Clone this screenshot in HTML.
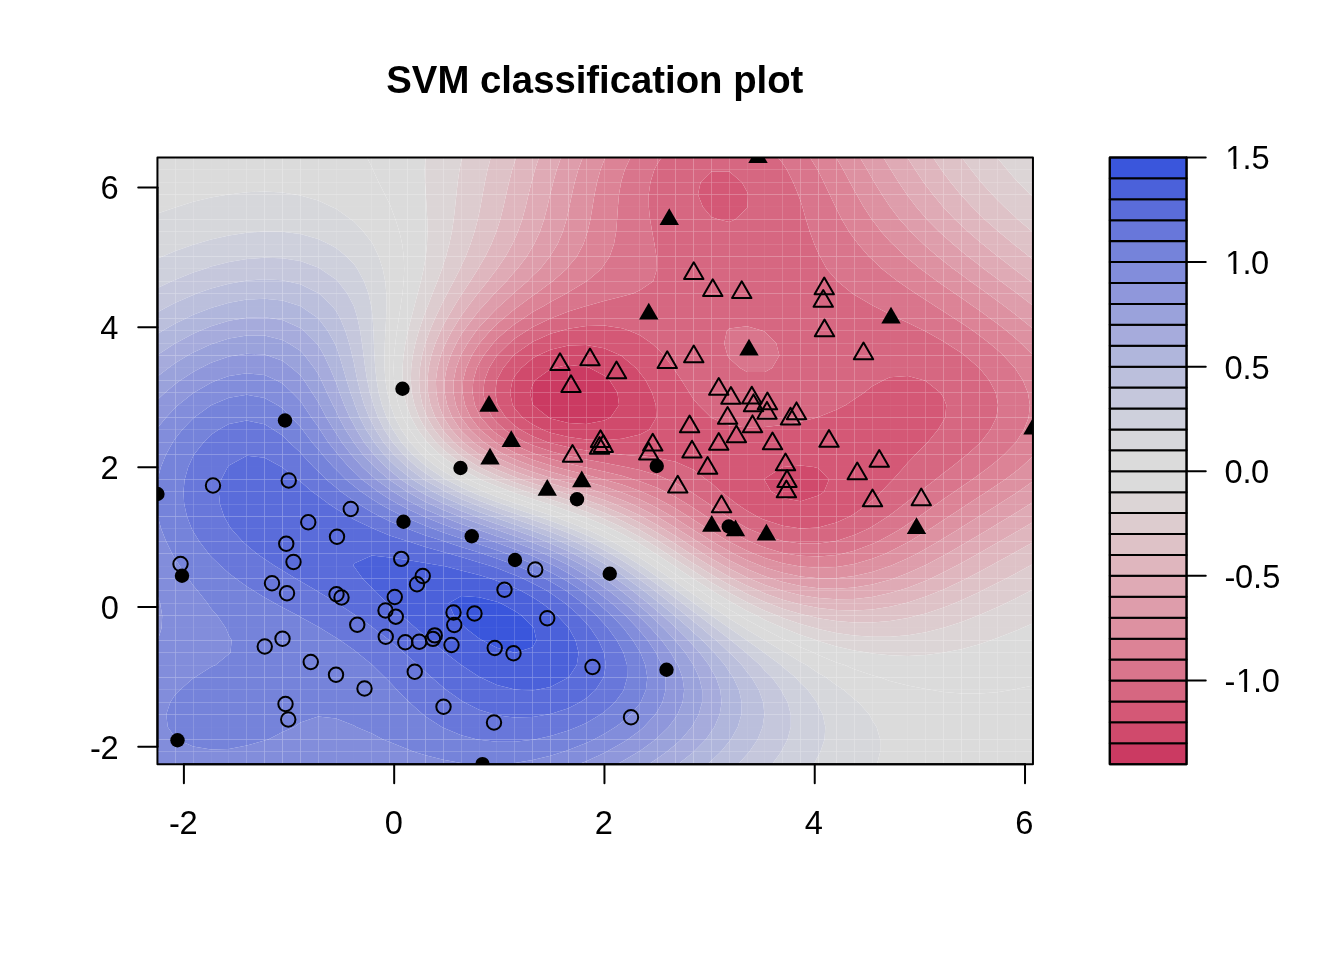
<!DOCTYPE html>
<html lang="en"><head><meta charset="utf-8"><title>SVM classification plot</title>
<style>
html,body{margin:0;padding:0;background:#fff;}
body{width:1344px;height:960px;overflow:hidden;}
svg{display:block;}
text{font-family:"Liberation Sans",Arial,Helvetica,sans-serif;font-size:32px;fill:#000;}
.title{font-size:38.4px;font-weight:bold;}
.o{fill:none;stroke:#000;stroke-width:2;stroke-linejoin:round;}
.f{fill:#000;stroke:none;}
.ln line,.ln rect{stroke:#000;stroke-width:2;stroke-linecap:round;stroke-linejoin:round;}
.seam rect{fill:#fff;}
</style></head><body>
<svg width="1344" height="960" viewBox="0 0 1344 960">
<rect width="1344" height="960" fill="#fff"/>
<defs><mask id="hm" maskUnits="userSpaceOnUse" x="157" y="157" width="877" height="608" style="mask-type:luminance"><rect x="157" y="157" width="877" height="608" fill="#fff"/><rect x="175" y="157" width="1" height="608" fill="#787878"/><rect x="193" y="157" width="1" height="608" fill="#aaaaaa"/><rect x="211" y="157" width="1" height="608" fill="#e9e9e9"/><rect x="228" y="157" width="1" height="608" fill="#d2d2d2"/><rect x="246" y="157" width="1" height="608" fill="#979797"/><rect x="264" y="157" width="1" height="608" fill="#6c6c6c"/><rect x="282" y="157" width="1" height="608" fill="#5a5a5a"/><rect x="300" y="157" width="1" height="608" fill="#656565"/><rect x="318" y="157" width="1" height="608" fill="#8c8c8c"/><rect x="336" y="157" width="1" height="608" fill="#c5c5c5"/><rect x="353" y="157" width="1" height="608" fill="#f8f8f8"/><rect x="371" y="157" width="1" height="608" fill="#b7b7b7"/><rect x="389" y="157" width="1" height="608" fill="#818181"/><rect x="407" y="157" width="1" height="608" fill="#606060"/><rect x="425" y="157" width="1" height="608" fill="#5b5b5b"/><rect x="443" y="157" width="1" height="608" fill="#737373"/><rect x="461" y="157" width="1" height="608" fill="#a3a3a3"/><rect x="479" y="157" width="1" height="608" fill="#e1e1e1"/><rect x="496" y="157" width="1" height="608" fill="#dadada"/><rect x="514" y="157" width="1" height="608" fill="#9d9d9d"/><rect x="532" y="157" width="1" height="608" fill="#707070"/><rect x="550" y="157" width="1" height="608" fill="#5a5a5a"/><rect x="568" y="157" width="1" height="608" fill="#626262"/><rect x="586" y="157" width="1" height="608" fill="#868686"/><rect x="604" y="157" width="1" height="608" fill="#bdbdbd"/><rect x="639" y="157" width="1" height="608" fill="#bebebe"/><rect x="657" y="157" width="1" height="608" fill="#878787"/><rect x="675" y="157" width="1" height="608" fill="#636363"/><rect x="693" y="157" width="1" height="608" fill="#5a5a5a"/><rect x="711" y="157" width="1" height="608" fill="#6f6f6f"/><rect x="729" y="157" width="1" height="608" fill="#9c9c9c"/><rect x="747" y="157" width="1" height="608" fill="#d9d9d9"/><rect x="764" y="157" width="1" height="608" fill="#e3e3e3"/><rect x="782" y="157" width="1" height="608" fill="#a4a4a4"/><rect x="800" y="157" width="1" height="608" fill="#747474"/><rect x="818" y="157" width="1" height="608" fill="#5b5b5b"/><rect x="836" y="157" width="1" height="608" fill="#606060"/><rect x="854" y="157" width="1" height="608" fill="#808080"/><rect x="872" y="157" width="1" height="608" fill="#b5b5b5"/><rect x="890" y="157" width="1" height="608" fill="#f6f6f6"/><rect x="907" y="157" width="1" height="608" fill="#c6c6c6"/><rect x="925" y="157" width="1" height="608" fill="#8d8d8d"/><rect x="943" y="157" width="1" height="608" fill="#666666"/><rect x="961" y="157" width="1" height="608" fill="#5a5a5a"/><rect x="979" y="157" width="1" height="608" fill="#6b6b6b"/><rect x="997" y="157" width="1" height="608" fill="#959595"/><rect x="1015" y="157" width="1" height="608" fill="#d1d1d1"/></mask><clipPath id="pc"><rect x="157.44" y="157.44" width="875.52" height="606.72"/></clipPath></defs>
<g clip-path="url(#pc)">
<g id="bands">
<path fill="#cb3a62" d="M554.5,367.9 568.4,365.1 586.3,366.7 589.8,367.9 604.1,375.6 609.6,380.3 617.5,392.7 619,405.1 610.5,417.5 604.1,420.5 586.3,423.9 568.4,423 550.5,418.4 548.7,417.5 533,405.1 532.7,404.2 530,392.7 532.7,384.4 535,380.3 550.5,369Z"/>
<path fill="#d04a6c" d="M537.8,355.6 550.5,349.8 568.4,345.6 586.3,345 604.1,348.2 620.9,355.6 622,356.2 636,367.9 639.9,372.7 645.6,380.3 652,392.7 655.8,405.1 656.3,417.5 649.2,429.8 639.9,434.4 622,438.8 604.1,440.2 586.3,439.6 568.4,437 550.5,432.7 543,429.8 532.7,424.6 522.5,417.5 514.8,408.5 512.6,405.1 510.1,392.7 512.5,380.3 514.8,376.1 521.2,367.9 532.7,358.2ZM568.4,365.1 554.5,367.9 550.5,369 535,380.3 532.7,384.4 530,392.7 532.7,404.2 533,405.1 548.7,417.5 550.5,418.4 568.4,423 586.3,423.9 604.1,420.5 610.5,417.5 619,405.1 617.5,392.7 609.6,380.3 604.1,375.6 589.8,367.9 586.3,366.7ZM782.8,467 782.8,467 800.7,465.5 813.6,467 818.5,468.3 829,479.4 824,491.8 818.5,495.6 800.7,501.3 782.8,498.1 771.2,491.8 764.9,480.7 764.4,479.4 764.9,478.5Z"/>
<path fill="#d45876" d="M700.6,182.2 711.3,171.5 729.2,171.6 741.8,182.2 747.1,191.7 747.9,194.6 747.5,207 747.1,208.1 735.1,219.4 729.2,222 718.9,219.4 711.3,217 702.9,207 698,194.6ZM561.4,330.8 568.4,328.7 586.3,325.9 604.1,325.6 622,328.3 629.4,330.8 639.9,335.2 651.6,343.2 657.7,348.7 664.1,355.6 673.3,367.9 675.6,371.6 681.5,380.3 689.4,392.7 693.5,399.3 698.5,405.1 711.1,417.5 711.3,417.7 729.2,425.4 747.1,427.5 764.9,427.1 782.8,425.1 800.7,421.8 817.4,417.5 818.5,417.1 836.4,409.8 845.9,405.1 854.3,399.2 864.1,392.7 872.2,386.2 883.5,380.3 890,377.3 907.9,376.1 923.7,380.3 925.8,381 940.4,392.7 943.6,397.8 946.3,405.1 945.2,417.5 943.6,420.6 937.9,429.8 927.7,442.2 925.8,444.1 915.6,454.6 907.9,462.6 904.1,467 893,479.4 890,482.4 881.3,491.8 872.2,500.3 867.9,504.1 854.3,513.8 849.8,516.5 836.4,522.4 818.5,527.4 800.7,528.5 782.8,525.8 764.9,520.1 757.2,516.5 747.1,510.8 736.9,504.1 729.2,498.1 721.1,491.8 711.3,483.1 706.2,479.4 693.5,469.8 687.4,467 675.6,461.7 657.7,458 639.9,456.1 622,454.7 621.4,454.6 604.1,452.8 586.3,450.4 568.4,447.3 550.5,443.1 547.9,442.2 532.7,436.2 520.5,429.8 514.8,425.8 505.8,417.5 497.6,405.1 496.9,402 495.2,392.7 496.7,380.3 496.9,379.8 503.2,367.9 513.4,355.6 514.8,354.2 530.5,343.2 532.7,341.8 550.5,333.8ZM782.8,467 782.8,467 764.9,478.5 764.4,479.4 764.9,480.7 771.2,491.8 782.8,498.1 800.7,501.3 818.5,495.6 824,491.8 829,479.4 818.5,468.3 813.6,467 800.7,465.5ZM550.5,349.8 537.8,355.6 532.7,358.2 521.2,367.9 514.8,376.1 512.5,380.3 510.1,392.7 512.6,405.1 514.8,408.5 522.5,417.5 532.7,424.6 543,429.8 550.5,432.7 568.4,437 586.3,439.6 604.1,440.2 622,438.8 639.9,434.4 649.2,429.8 656.3,417.5 655.8,405.1 652,392.7 645.6,380.3 639.9,372.7 636,367.9 622,356.2 620.9,355.6 604.1,348.2 586.3,345 568.4,345.6Z"/>
<path fill="#d66781" d="M654.3,169.8 657.7,163.3 661.7,157.4 675.6,157.4 693.5,157.4 711.3,157.4 729.2,157.4 747.1,157.4 764.9,157.4 778,157.4 782.8,163.6 786.9,169.8 793.1,182.2 798.2,194.6 800.7,201.6 802.4,207 806,219.4 809.8,231.7 814.3,244.1 818.5,253.4 820,256.5 826.8,268.9 836.4,280.1 837.5,281.3 852.4,293.6 854.3,294.8 872.2,305.2 873.6,306 890,314.2 898.4,318.4 907.9,322.7 924.2,330.8 925.8,331.5 943.6,341.4 946.3,343.2 961.5,353.1 964.7,355.6 979.4,367.9 979.4,367.9 989.2,380.3 995.7,392.7 997.2,400 998.1,405.1 997.2,411.9 996.4,417.5 990.3,429.8 980.7,442.2 979.4,443.6 967.2,454.6 961.5,459.1 951.6,467 943.6,473 935.5,479.4 925.8,486.9 919.9,491.8 907.9,501.2 904.4,504.1 890,514.9 887.9,516.5 872.2,526.5 867.8,528.9 854.3,535.1 836.4,541 834.8,541.3 818.5,543.6 800.7,543.6 784,541.3 782.8,541.1 764.9,535.5 749.1,528.9 747.1,527.9 729.2,517.7 727.3,516.5 711.3,505.6 709.1,504.1 693.5,493.4 690.7,491.8 675.6,482.9 667.6,479.4 657.7,475.2 639.9,469.9 625.9,467 622,466.2 604.1,462.7 586.3,459.5 568.4,456 562.7,454.6 550.5,451.3 532.7,445.3 525.6,442.2 514.8,436.5 504.8,429.8 496.9,422.6 492.4,417.5 485.8,405.1 483.2,392.7 484.5,380.3 489.1,367.9 496.8,355.6 496.9,355.4 509.4,343.2 514.8,338.5 526.8,330.8 532.7,327 550.5,318.4 550.6,318.4 568.4,311.5 586.3,306.1 586.6,306 604.1,301.1 622,296.4 633.1,293.6 639.9,290.3 653.3,281.3 656.9,268.9 656.4,256.5 654.5,244.1 652.2,231.7 650.1,219.4 648.8,207 648.7,194.6 650.4,182.2ZM711.3,171.5 700.6,182.2 698,194.6 702.9,207 711.3,217 718.9,219.4 729.2,222 735.1,219.4 747.1,208.1 747.5,207 747.9,194.6 747.1,191.7 741.8,182.2 729.2,171.6ZM568.4,328.7 561.4,330.8 550.5,333.8 532.7,341.8 530.5,343.2 514.8,354.2 513.4,355.6 503.2,367.9 496.9,379.8 496.7,380.3 495.2,392.7 496.9,402 497.6,405.1 505.8,417.5 514.8,425.8 520.5,429.8 532.7,436.2 547.9,442.2 550.5,443.1 568.4,447.3 586.3,450.4 604.1,452.8 621.4,454.6 622,454.7 639.9,456.1 657.7,458 675.6,461.7 687.4,467 693.5,469.8 706.2,479.4 711.3,483.1 721.1,491.8 729.2,498.1 736.9,504.1 747.1,510.8 757.2,516.5 764.9,520.1 782.8,525.8 800.7,528.5 818.5,527.4 836.4,522.4 849.8,516.5 854.3,513.8 867.9,504.1 872.2,500.3 881.3,491.8 890,482.4 893,479.4 904.1,467 907.9,462.6 915.6,454.6 925.8,444.1 927.7,442.2 937.9,429.8 943.6,420.6 945.2,417.5 946.3,405.1 943.6,397.8 940.4,392.7 925.8,381 923.7,380.3 907.9,376.1 890,377.3 883.5,380.3 872.2,386.2 864.1,392.7 854.3,399.2 845.9,405.1 836.4,409.8 818.5,417.1 817.4,417.5 800.7,421.8 782.8,425.1 764.9,427.1 747.1,427.5 729.2,425.4 711.3,417.7 711.1,417.5 698.5,405.1 693.5,399.3 689.4,392.7 681.5,380.3 675.6,371.6 673.3,367.9 664.1,355.6 657.7,348.7 651.6,343.2 639.9,335.2 629.4,330.8 622,328.3 604.1,325.6 586.3,325.9ZM729.2,328.6 726.9,330.8 724.2,343.2 727.5,355.6 729.2,358.3 740,367.9 747.1,372 764.9,372 772.1,367.9 779.4,355.6 776.2,343.2 764.9,331.8 762.6,330.8 747.1,326.2Z"/>
<path fill="#d9758c" d="M630.5,157.4 639.9,157.4 657.7,157.4 661.7,157.4 657.7,163.3 654.3,169.8 650.4,182.2 648.7,194.6 648.8,207 650.1,219.4 652.2,231.7 654.5,244.1 656.4,256.5 656.9,268.9 653.3,281.3 639.9,290.3 633.1,293.6 622,296.4 604.1,301.1 586.6,306 586.3,306.1 568.4,311.5 550.6,318.4 550.5,318.4 532.7,327 526.8,330.8 514.8,338.5 509.4,343.2 496.9,355.4 496.8,355.6 489.1,367.9 484.5,380.3 483.2,392.7 485.8,405.1 492.4,417.5 496.9,422.6 504.8,429.8 514.8,436.5 525.6,442.2 532.7,445.3 550.5,451.3 562.7,454.6 568.4,456 586.3,459.5 604.1,462.7 622,466.2 625.9,467 639.9,469.9 657.7,475.2 667.6,479.4 675.6,482.9 690.7,491.8 693.5,493.4 709.1,504.1 711.3,505.6 727.3,516.5 729.2,517.7 747.1,527.9 749.1,528.9 764.9,535.5 782.8,541.1 784,541.3 800.7,543.6 818.5,543.6 834.8,541.3 836.4,541 854.3,535.1 867.8,528.9 872.2,526.5 887.9,516.5 890,514.9 904.4,504.1 907.9,501.2 919.9,491.8 925.8,486.9 935.5,479.4 943.6,473 951.6,467 961.5,459.1 967.2,454.6 979.4,443.6 980.7,442.2 990.3,429.8 996.4,417.5 997.2,411.9 998.1,405.1 997.2,400 995.7,392.7 989.2,380.3 979.4,367.9 979.4,367.9 964.7,355.6 961.5,353.1 946.3,343.2 943.6,341.4 925.8,331.5 924.2,330.8 907.9,322.7 898.4,318.4 890,314.2 873.6,306 872.2,305.2 854.3,294.8 852.4,293.6 837.5,281.3 836.4,280.1 826.8,268.9 820,256.5 818.5,253.4 814.3,244.1 809.8,231.7 806,219.4 802.4,207 800.7,201.6 798.2,194.6 793.1,182.2 786.9,169.8 782.8,163.6 778,157.4 782.8,157.4 800.7,157.4 810,157.4 817.6,169.8 818.5,171.6 823.8,182.2 829.6,194.6 835.6,207 836.4,208.7 841.8,219.4 849.1,231.7 854.3,239 858.1,244.1 868.9,256.5 872.2,259.6 882.1,268.9 890,275.2 897.8,281.3 907.9,288.2 915.7,293.6 925.8,300 935,306 943.6,311.4 954.4,318.4 961.5,322.9 972.9,330.8 979.4,335.4 989.4,343.2 997.2,349.8 1003.4,355.6 1014.8,367.9 1015.1,368.3 1022.8,380.3 1027.9,392.7 1029.9,405.1 1028.6,417.5 1023.9,429.8 1016,442.2 1015.1,443.2 1004.1,454.6 997.2,460.5 989.2,467 979.4,474.2 972.2,479.4 961.5,486.7 954.3,491.8 943.6,499.1 936.7,504.1 925.8,511.7 919.1,516.5 907.9,524 900.5,528.9 890,535.1 878.4,541.3 872.2,544.1 854.3,550.7 842.3,553.7 836.4,554.9 818.5,556.5 800.7,555.8 787.1,553.7 782.8,552.9 764.9,547.5 749.2,541.3 747.1,540.3 729.2,530.8 725.9,528.9 711.3,519.7 706.4,516.5 693.5,508 687.2,504.1 675.6,497 665.2,491.8 657.7,488.1 639.9,481.2 633.8,479.4 622,475.8 604.1,471.4 586.3,467.6 583.5,467 568.4,463.4 550.5,458.7 537.3,454.6 532.7,453 514.8,445.2 509.2,442.2 496.9,434.1 491.7,429.8 480.8,417.5 479.1,414.3 474.8,405.1 472.5,392.7 473.3,380.3 476.8,367.9 479.1,363.3 483.6,355.6 493.2,343.2 496.9,339.1 506.4,330.8 514.8,323.9 523.3,318.4 532.7,312 543.9,306 550.5,301.9 566.4,293.6 568.4,292.3 586.3,281.6 586.9,281.3 601.3,268.9 604.1,264.7 609.7,256.5 614,244.1 616.1,231.7 617.1,219.4 617.9,207 619,194.6 621.1,182.2 622,179 624.8,169.8ZM726.9,330.8 729.2,328.6 747.1,326.2 762.6,330.8 764.9,331.8 776.2,343.2 779.4,355.6 772.1,367.9 764.9,372 747.1,372 740,367.9 729.2,358.3 727.5,355.6 724.2,343.2Z"/>
<path fill="#dc8396" d="M600.5,169.8 604.1,160.5 605.4,157.4 622,157.4 630.5,157.4 624.8,169.8 622,179 621.1,182.2 619,194.6 617.9,207 617.1,219.4 616.1,231.7 614,244.1 609.7,256.5 604.1,264.7 601.3,268.9 586.9,281.3 586.3,281.6 568.4,292.3 566.4,293.6 550.5,301.9 543.9,306 532.7,312 523.3,318.4 514.8,323.9 506.4,330.8 496.9,339.1 493.2,343.2 483.6,355.6 479.1,363.3 476.8,367.9 473.3,380.3 472.5,392.7 474.8,405.1 479.1,414.3 480.8,417.5 491.7,429.8 496.9,434.1 509.2,442.2 514.8,445.2 532.7,453 537.3,454.6 550.5,458.7 568.4,463.4 583.5,467 586.3,467.6 604.1,471.4 622,475.8 633.8,479.4 639.9,481.2 657.7,488.1 665.2,491.8 675.6,497 687.2,504.1 693.5,508 706.4,516.5 711.3,519.7 725.9,528.9 729.2,530.8 747.1,540.3 749.2,541.3 764.9,547.5 782.8,552.9 787.1,553.7 800.7,555.8 818.5,556.5 836.4,554.9 842.3,553.7 854.3,550.7 872.2,544.1 878.4,541.3 890,535.1 900.5,528.9 907.9,524 919.1,516.5 925.8,511.7 936.7,504.1 943.6,499.1 954.3,491.8 961.5,486.7 972.2,479.4 979.4,474.2 989.2,467 997.2,460.5 1004.1,454.6 1015.1,443.2 1016,442.2 1023.9,429.8 1028.6,417.5 1029.9,405.1 1027.9,392.7 1022.8,380.3 1015.1,368.3 1014.8,367.9 1003.4,355.6 997.2,349.8 989.4,343.2 979.4,335.4 972.9,330.8 961.5,322.9 954.4,318.4 943.6,311.4 935,306 925.8,300 915.7,293.6 907.9,288.2 897.8,281.3 890,275.2 882.1,268.9 872.2,259.6 868.9,256.5 858.1,244.1 854.3,239 849.1,231.7 841.8,219.4 836.4,208.7 835.6,207 829.6,194.6 823.8,182.2 818.5,171.6 817.6,169.8 810,157.4 818.5,157.4 836.2,157.4 836.4,157.9 843.2,169.8 849.9,182.2 854.3,190.4 856.6,194.6 863.7,207 871.9,219.4 872.2,219.7 881.3,231.7 890,241.4 892.6,244.1 905.7,256.5 907.9,258.4 920.6,268.9 925.8,272.7 937.2,281.3 943.6,285.7 954.9,293.6 961.5,298.1 972.8,306 979.4,310.5 990.3,318.4 997.2,323.5 1006.5,330.8 1015.1,338 1020.9,343.2 1033,355.3 1033,355.6 1033,367.9 1033,380.3 1033,392.7 1033,405.1 1033,417.5 1033,429.8 1033,442.2 1033,454.6 1033,456.3 1021.3,467 1015.1,471.9 1005.1,479.4 997.2,484.8 986.9,491.8 979.4,496.6 967.9,504.1 961.5,508.2 948.9,516.5 943.6,519.9 929.9,528.9 925.8,531.5 909.7,541.3 907.9,542.3 890,551.5 885.3,553.7 872.2,558.8 854.3,564 842.7,566 836.4,567 818.5,567.8 800.7,566.6 797.7,566 782.8,563.2 764.9,557.9 754.1,553.7 747.1,550.7 729.2,541.8 728.3,541.3 711.3,531.1 707.8,528.9 693.5,519.7 688.4,516.5 675.6,508.6 667.6,504.1 657.7,498.8 641.7,491.8 639.9,491 622,484.5 604.1,479.5 603.7,479.4 586.3,474.7 568.4,470.3 555.8,467 550.5,465.5 532.7,459.7 519.1,454.6 514.8,452.7 496.9,443.2 495.4,442.2 480.2,429.8 479.1,428.6 470.7,417.5 465,405.1 462.5,392.7 463,380.3 466.2,367.9 471.7,355.6 479.1,343.7 479.4,343.2 490.3,330.8 496.9,323.9 503.5,318.4 514.8,308.9 519,306 532.7,295.8 536.1,293.6 550.5,282.7 552.7,281.3 566.6,268.9 568.4,266.6 576.9,256.5 583.4,244.1 586.3,235.6 587.6,231.7 590.4,219.4 592.5,207 594.5,194.6 597,182.2Z"/>
<path fill="#dd91a1" d="M582.8,157.4 586.3,157.4 604.1,157.4 605.4,157.4 604.1,160.5 600.5,169.8 597,182.2 594.5,194.6 592.5,207 590.4,219.4 587.6,231.7 586.3,235.6 583.4,244.1 576.9,256.5 568.4,266.6 566.6,268.9 552.7,281.3 550.5,282.7 536.1,293.6 532.7,295.8 519,306 514.8,308.9 503.5,318.4 496.9,323.9 490.3,330.8 479.4,343.2 479.1,343.7 471.7,355.6 466.2,367.9 463,380.3 462.5,392.7 465,405.1 470.7,417.5 479.1,428.6 480.2,429.8 495.4,442.2 496.9,443.2 514.8,452.7 519.1,454.6 532.7,459.7 550.5,465.5 555.8,467 568.4,470.3 586.3,474.7 603.7,479.4 604.1,479.5 622,484.5 639.9,491 641.7,491.8 657.7,498.8 667.6,504.1 675.6,508.6 688.4,516.5 693.5,519.7 707.8,528.9 711.3,531.1 728.3,541.3 729.2,541.8 747.1,550.7 754.1,553.7 764.9,557.9 782.8,563.2 797.7,566 800.7,566.6 818.5,567.8 836.4,567 842.7,566 854.3,564 872.2,558.8 885.3,553.7 890,551.5 907.9,542.3 909.7,541.3 925.8,531.5 929.9,528.9 943.6,519.9 948.9,516.5 961.5,508.2 967.9,504.1 979.4,496.6 986.9,491.8 997.2,484.8 1005.1,479.4 1015.1,471.9 1021.3,467 1033,456.3 1033,467 1033,479.4 1033,481.3 1018.1,491.8 1015.1,493.7 998.9,504.1 997.2,505.2 979.4,516.3 978.9,516.5 961.5,527.3 959,528.9 943.6,538.3 938.8,541.3 925.8,548.8 916.9,553.7 907.9,558.2 890.2,566 890,566.1 872.2,572 854.3,576.1 836.4,578.2 818.5,578.3 800.7,576.4 782.8,572.8 764.9,567.4 761.4,566 747.1,560.2 733.8,553.7 729.2,551.3 711.6,541.3 711.3,541.1 693.5,529.9 691.9,528.9 675.6,518.6 672,516.5 657.7,508.3 649.3,504.1 639.9,499.6 622,492.6 619.5,491.8 604.1,486.6 586.3,481.6 578.1,479.4 568.4,476.7 550.5,471.7 535,467 532.7,466.2 514.8,459.3 504.5,454.6 496.9,450.6 483.8,442.2 479.1,438.3 470.2,429.8 461.2,417.8 461,417.5 455.8,405.1 453.5,392.7 453.7,380.3 456.1,367.9 460.6,355.6 461.2,354.3 467.6,343.2 476.3,330.8 479.1,327.2 487.3,318.4 496.9,308.4 499.7,306 513.4,293.6 514.8,292.3 527.5,281.3 532.7,275.8 540.1,268.9 550,256.5 550.5,255.6 557.6,244.1 562.8,231.7 566.5,219.4 568.4,210.9 569.3,207 571.9,194.6 574.7,182.2 578.2,169.8ZM836.2,157.4 836.4,157.4 854.3,157.4 859.9,157.4 867.2,169.8 872.2,178.5 874.3,182.2 881.9,194.6 890,206.7 890.2,207 899.7,219.4 907.9,228.6 910.7,231.7 923.4,244.1 925.8,246.2 937.7,256.5 943.6,261.2 953.5,268.9 961.5,274.8 970.2,281.3 979.4,287.8 987.3,293.6 997.2,300.8 1004.3,306 1015.1,314.2 1020.4,318.4 1033,328.8 1033,330.8 1033,343.2 1033,355.3 1020.9,343.2 1015.1,338 1006.5,330.8 997.2,323.5 990.3,318.4 979.4,310.5 972.8,306 961.5,298.1 954.9,293.6 943.6,285.7 937.2,281.3 925.8,272.7 920.6,268.9 907.9,258.4 905.7,256.5 892.6,244.1 890,241.4 881.3,231.7 872.2,219.7 871.9,219.4 863.7,207 856.6,194.6 854.3,190.4 849.9,182.2 843.2,169.8 836.4,157.9Z"/>
<path fill="#de9dab" d="M561,157.4 568.4,157.4 582.8,157.4 578.2,169.8 574.7,182.2 571.9,194.6 569.3,207 568.4,210.9 566.5,219.4 562.8,231.7 557.6,244.1 550.5,255.6 550,256.5 540.1,268.9 532.7,275.8 527.5,281.3 514.8,292.3 513.4,293.6 499.7,306 496.9,308.4 487.3,318.4 479.1,327.2 476.3,330.8 467.6,343.2 461.2,354.3 460.6,355.6 456.1,367.9 453.7,380.3 453.5,392.7 455.8,405.1 461,417.5 461.2,417.8 470.2,429.8 479.1,438.3 483.8,442.2 496.9,450.6 504.5,454.6 514.8,459.3 532.7,466.2 535,467 550.5,471.7 568.4,476.7 578.1,479.4 586.3,481.6 604.1,486.6 619.5,491.8 622,492.6 639.9,499.6 649.3,504.1 657.7,508.3 672,516.5 675.6,518.6 691.9,528.9 693.5,529.9 711.3,541.1 711.6,541.3 729.2,551.3 733.8,553.7 747.1,560.2 761.4,566 764.9,567.4 782.8,572.8 800.7,576.4 818.5,578.3 836.4,578.2 854.3,576.1 872.2,572 890,566.1 890.2,566 907.9,558.2 916.9,553.7 925.8,548.8 938.8,541.3 943.6,538.3 959,528.9 961.5,527.3 978.9,516.5 979.4,516.3 997.2,505.2 998.9,504.1 1015.1,493.7 1018.1,491.8 1033,481.3 1033,491.8 1033,502.1 1029.9,504.1 1015.1,513.3 1009.9,516.5 997.2,524.1 989.2,528.9 979.4,534.7 968.3,541.3 961.5,545.3 947,553.7 943.6,555.5 925.8,565 923.5,566 907.9,573.1 893.9,578.4 890,579.8 872.2,584.6 854.3,587.6 836.4,588.8 818.5,588.2 800.7,585.9 782.8,581.9 771.7,578.4 764.9,576.3 747.1,569 741,566 729.2,560.2 717.7,553.7 711.3,550 697.2,541.3 693.5,538.9 677.5,528.9 675.6,527.7 657.7,517.1 656.6,516.5 639.9,507.8 631.7,504.1 622,500 604.1,493.6 598.4,491.8 586.3,487.9 568.4,482.8 556.3,479.4 550.5,477.7 532.7,472 518.3,467 514.8,465.6 496.9,457.5 491.5,454.6 479.1,446.6 473.1,442.2 461.2,430.7 460.4,429.8 452.2,417.5 447.1,405.1 444.6,392.7 444.5,380.3 446.6,367.9 450.6,355.6 456.3,343.2 461.2,334.5 463.7,330.8 472.9,318.4 479.1,310.5 483.3,306 494.6,293.6 496.9,291 506.5,281.3 514.8,271.5 517.3,268.9 526.8,256.5 532.7,246.6 534.2,244.1 539.9,231.7 544.1,219.4 547.3,207 550.2,194.6 550.5,193.2 553.2,182.2 556.7,169.8ZM859.9,157.4 872.2,157.4 883.3,157.4 890,168.6 890.8,169.8 898.6,182.2 906.9,194.6 907.9,195.9 916.3,207 925.8,217.9 927,219.4 939.2,231.7 943.6,235.8 953,244.1 961.5,251.2 968,256.5 979.4,265.3 984,268.9 997.2,278.7 1000.6,281.3 1015.1,292.1 1017.2,293.6 1033,305.8 1033,306 1033,318.4 1033,328.8 1020.4,318.4 1015.1,314.2 1004.3,306 997.2,300.8 987.3,293.6 979.4,287.8 970.2,281.3 961.5,274.8 953.5,268.9 943.6,261.2 937.7,256.5 925.8,246.2 923.4,244.1 910.7,231.7 907.9,228.6 899.7,219.4 890.2,207 890,206.7 881.9,194.6 874.3,182.2 872.2,178.5 867.2,169.8Z"/>
<path fill="#dfaab5" d="M539,157.4 550.5,157.4 561,157.4 556.7,169.8 553.2,182.2 550.5,193.2 550.2,194.6 547.3,207 544.1,219.4 539.9,231.7 534.2,244.1 532.7,246.6 526.8,256.5 517.3,268.9 514.8,271.5 506.5,281.3 496.9,291 494.6,293.6 483.3,306 479.1,310.5 472.9,318.4 463.7,330.8 461.2,334.5 456.3,343.2 450.6,355.6 446.6,367.9 444.5,380.3 444.6,392.7 447.1,405.1 452.2,417.5 460.4,429.8 461.2,430.7 473.1,442.2 479.1,446.6 491.5,454.6 496.9,457.5 514.8,465.6 518.3,467 532.7,472 550.5,477.7 556.3,479.4 568.4,482.8 586.3,487.9 598.4,491.8 604.1,493.6 622,500 631.7,504.1 639.9,507.8 656.6,516.5 657.7,517.1 675.6,527.7 677.5,528.9 693.5,538.9 697.2,541.3 711.3,550 717.7,553.7 729.2,560.2 741,566 747.1,569 764.9,576.3 771.7,578.4 782.8,581.9 800.7,585.9 818.5,588.2 836.4,588.8 854.3,587.6 872.2,584.6 890,579.8 893.9,578.4 907.9,573.1 923.5,566 925.8,565 943.6,555.5 947,553.7 961.5,545.3 968.3,541.3 979.4,534.7 989.2,528.9 997.2,524.1 1009.9,516.5 1015.1,513.3 1029.9,504.1 1033,502.1 1033,504.1 1033,516.5 1033,522 1021.3,528.9 1015.1,532.5 999.9,541.3 997.2,542.8 979.4,553 978.1,553.7 961.5,562.9 955.7,566 943.6,572.3 930.8,578.4 925.8,580.7 907.9,587.7 898,590.8 890,593.1 872.2,596.9 854.3,598.9 836.4,599.3 818.5,598.1 800.7,595.2 782.8,590.8 782.8,590.8 764.9,584.9 749.3,578.4 747.1,577.5 729.2,568.6 724.6,566 711.3,558.5 703.5,553.7 693.5,547.4 683.8,541.3 675.6,536.1 663.9,528.9 657.7,525.2 641.8,516.5 639.9,515.5 622,507.2 614.5,504.1 604.1,500.1 586.3,494.2 578.5,491.8 568.4,488.7 550.5,483.3 537.6,479.4 532.7,477.8 514.8,471.4 504,467 496.9,463.8 479.8,454.6 479.1,454.2 463.1,442.2 461.2,440.4 451.5,429.8 443.5,417.5 443.3,417.1 438.7,405.1 436.3,392.7 435.9,380.3 437.5,367.9 440.7,355.6 443.3,348.6 445.6,343.2 452,330.8 459.5,318.4 461.2,315.8 468.4,306 477.8,293.6 479.1,291.9 487.7,281.3 496.9,268.9 497,268.9 505.5,256.5 512.4,244.1 514.8,238.7 517.9,231.7 522.2,219.4 525.6,207 528.5,194.6 531.6,182.2 532.7,178.2 534.9,169.8ZM883.3,157.4 890,157.4 907.2,157.4 907.9,158.6 915.2,169.8 923.5,182.2 925.8,185.3 932.9,194.6 943.2,207 943.6,207.5 955,219.4 961.5,225.6 968.1,231.7 979.4,241.4 982.5,244.1 997.2,255.9 998,256.5 1014,268.9 1015.1,269.7 1030.3,281.3 1033,283.3 1033,293.6 1033,305.8 1017.2,293.6 1015.1,292.1 1000.6,281.3 997.2,278.7 984,268.9 979.4,265.3 968,256.5 961.5,251.2 953,244.1 943.6,235.8 939.2,231.7 927,219.4 925.8,217.9 916.3,207 907.9,195.9 906.9,194.6 898.6,182.2 890.8,169.8 890,168.6Z"/>
<path fill="#dfb6be" d="M512.2,169.8 514.8,161.7 516.1,157.4 532.7,157.4 539,157.4 534.9,169.8 532.7,178.2 531.6,182.2 528.5,194.6 525.6,207 522.2,219.4 517.9,231.7 514.8,238.7 512.4,244.1 505.5,256.5 497,268.9 496.9,268.9 487.7,281.3 479.1,291.9 477.8,293.6 468.4,306 461.2,315.8 459.5,318.4 452,330.8 445.6,343.2 443.3,348.6 440.7,355.6 437.5,367.9 435.9,380.3 436.3,392.7 438.7,405.1 443.3,417.1 443.5,417.5 451.5,429.8 461.2,440.4 463.1,442.2 479.1,454.2 479.8,454.6 496.9,463.8 504,467 514.8,471.4 532.7,477.8 537.6,479.4 550.5,483.3 568.4,488.7 578.5,491.8 586.3,494.2 604.1,500.1 614.5,504.1 622,507.2 639.9,515.5 641.8,516.5 657.7,525.2 663.9,528.9 675.6,536.1 683.8,541.3 693.5,547.4 703.5,553.7 711.3,558.5 724.6,566 729.2,568.6 747.1,577.5 749.3,578.4 764.9,584.9 782.8,590.8 782.8,590.8 800.7,595.2 818.5,598.1 836.4,599.3 854.3,598.9 872.2,596.9 890,593.1 898,590.8 907.9,587.7 925.8,580.7 930.8,578.4 943.6,572.3 955.7,566 961.5,562.9 978.1,553.7 979.4,553 997.2,542.8 999.9,541.3 1015.1,532.5 1021.3,528.9 1033,522 1033,528.9 1033,541.3 1033,542.2 1015.1,552.2 1012.5,553.7 997.2,562.1 990.1,566 979.4,571.8 966.6,578.4 961.5,581 943.6,589.4 940.2,590.8 925.8,596.6 907.9,602.4 904.7,603.2 890,606.7 872.2,609.4 854.3,610.5 836.4,610 818.5,608 800.7,604.5 796,603.2 782.8,599.7 764.9,593.4 759.1,590.8 747.1,585.7 732.5,578.4 729.2,576.8 711.3,566.6 710.4,566 693.5,555.6 690.5,553.7 675.6,544.1 671.2,541.3 657.7,533 650.8,528.9 639.9,522.8 627.3,516.5 622,514 604.1,506.6 597.6,504.1 586.3,500.1 568.4,494.4 559.9,491.8 550.5,488.9 532.7,483.2 521.4,479.4 514.8,477 496.9,469.8 491,467 479.1,460.6 469.3,454.6 461.2,448.6 453.7,442.2 443.3,430.7 442.7,429.8 435.3,417.5 430.5,405.1 428,392.7 427.4,380.3 428.6,367.9 431.3,355.6 435.4,343.2 440.7,330.8 443.3,325.3 447.1,318.4 454.4,306 461.2,295 462.2,293.6 470.3,281.3 478.1,268.9 479.1,267.1 485.3,256.5 491.4,244.1 496.3,231.7 496.9,229.9 500.3,219.4 503.4,207 506.2,194.6 509,182.2ZM907.2,157.4 907.9,157.4 925.8,157.4 933,157.4 941.3,169.8 943.6,173.1 950.6,182.2 960.6,194.6 961.5,195.6 972.1,207 979.4,214.2 984.7,219.4 997.2,230.6 998.6,231.7 1013.5,244.1 1015.1,245.4 1029.1,256.5 1033,259.5 1033,268.9 1033,281.3 1033,283.3 1030.3,281.3 1015.1,269.7 1014,268.9 998,256.5 997.2,255.9 982.5,244.1 979.4,241.4 968.1,231.7 961.5,225.6 955,219.4 943.6,207.5 943.2,207 932.9,194.6 925.8,185.3 923.5,182.2 915.2,169.8 907.9,158.6Z"/>
<path fill="#dec2c7" d="M490.8,157.4 496.9,157.4 514.8,157.4 516.1,157.4 514.8,161.7 512.2,169.8 509,182.2 506.2,194.6 503.4,207 500.3,219.4 496.9,229.9 496.3,231.7 491.4,244.1 485.3,256.5 479.1,267.1 478.1,268.9 470.3,281.3 462.2,293.6 461.2,295 454.4,306 447.1,318.4 443.3,325.3 440.7,330.8 435.4,343.2 431.3,355.6 428.6,367.9 427.4,380.3 428,392.7 430.5,405.1 435.3,417.5 442.7,429.8 443.3,430.7 453.7,442.2 461.2,448.6 469.3,454.6 479.1,460.6 491,467 496.9,469.8 514.8,477 521.4,479.4 532.7,483.2 550.5,488.9 559.9,491.8 568.4,494.4 586.3,500.1 597.6,504.1 604.1,506.6 622,514 627.3,516.5 639.9,522.8 650.8,528.9 657.7,533 671.2,541.3 675.6,544.1 690.5,553.7 693.5,555.6 710.4,566 711.3,566.6 729.2,576.8 732.5,578.4 747.1,585.7 759.1,590.8 764.9,593.4 782.8,599.7 796,603.2 800.7,604.5 818.5,608 836.4,610 854.3,610.5 872.2,609.4 890,606.7 904.7,603.2 907.9,602.4 925.8,596.6 940.2,590.8 943.6,589.4 961.5,581 966.6,578.4 979.4,571.8 990.1,566 997.2,562.1 1012.5,553.7 1015.1,552.2 1033,542.2 1033,553.7 1033,564.1 1029.3,566 1015.1,573.7 1006.2,578.4 997.2,583.1 981.8,590.8 979.4,592 961.5,600.3 954.4,603.2 943.6,607.5 925.8,613.4 917.3,615.6 907.9,617.9 890,621 872.2,622.5 854.3,622.5 836.4,621.1 818.5,618.2 807.6,615.6 800.7,614.1 782.8,608.7 768.6,603.2 764.9,601.9 747.1,594 741.1,590.8 729.2,584.8 718.2,578.4 711.3,574.5 697.8,566 693.5,563.4 678.5,553.7 675.6,551.8 659,541.3 657.7,540.5 639.9,530 637.9,528.9 622,520.7 612.8,516.5 604.1,512.8 586.3,506 580.9,504.1 568.4,499.9 550.5,494.3 542.7,491.8 532.7,488.5 514.8,482.4 506.7,479.4 496.9,475.4 479.1,467.1 478.9,467 461.2,456.1 459,454.6 444.6,442.2 443.3,440.8 434.3,429.8 427.1,417.5 425.5,413.2 422.4,405.1 419.9,392.7 419.1,380.3 419.9,367.9 422,355.6 425.3,343.2 425.5,342.8 429.7,330.8 435,318.4 440.9,306 443.3,300.9 447.2,293.6 453.7,281.3 460,268.9 461.2,266 465.7,256.5 470.5,244.1 474.5,231.7 477.8,219.4 479.1,213.2 480.4,207 482.6,194.6 484.9,182.2 487.5,169.8ZM933,157.4 943.6,157.4 961.5,157.4 961.8,157.4 971.1,169.8 979.4,180.3 981,182.2 992.2,194.6 997.2,199.8 1004.5,207 1015.1,216.8 1017.9,219.4 1032.3,231.7 1033,232.3 1033,244.1 1033,256.5 1033,259.5 1029.1,256.5 1015.1,245.4 1013.5,244.1 998.6,231.7 997.2,230.6 984.7,219.4 979.4,214.2 972.1,207 961.5,195.6 960.6,194.6 950.6,182.2 943.6,173.1 941.3,169.8Z"/>
<path fill="#ddcccf" d="M459.5,169.8 461.2,161.4 461.9,157.4 479.1,157.4 490.8,157.4 487.5,169.8 484.9,182.2 482.6,194.6 480.4,207 479.1,213.2 477.8,219.4 474.5,231.7 470.5,244.1 465.7,256.5 461.2,266 460,268.9 453.7,281.3 447.2,293.6 443.3,300.9 440.9,306 435,318.4 429.7,330.8 425.5,342.8 425.3,343.2 422,355.6 419.9,367.9 419.1,380.3 419.9,392.7 422.4,405.1 425.5,413.2 427.1,417.5 434.3,429.8 443.3,440.8 444.6,442.2 459,454.6 461.2,456.1 478.9,467 479.1,467.1 496.9,475.4 506.7,479.4 514.8,482.4 532.7,488.5 542.7,491.8 550.5,494.3 568.4,499.9 580.9,504.1 586.3,506 604.1,512.8 612.8,516.5 622,520.7 637.9,528.9 639.9,530 657.7,540.5 659,541.3 675.6,551.8 678.5,553.7 693.5,563.4 697.8,566 711.3,574.5 718.2,578.4 729.2,584.8 741.1,590.8 747.1,594 764.9,601.9 768.6,603.2 782.8,608.7 800.7,614.1 807.6,615.6 818.5,618.2 836.4,621.1 854.3,622.5 872.2,622.5 890,621 907.9,617.9 917.3,615.6 925.8,613.4 943.6,607.5 954.4,603.2 961.5,600.3 979.4,592 981.8,590.8 997.2,583.1 1006.2,578.4 1015.1,573.7 1029.3,566 1033,564.1 1033,566 1033,578.4 1033,589.6 1030.5,590.8 1015.1,598.7 1005.7,603.2 997.2,607.3 979.4,615 978,615.6 961.5,622.1 943.6,627.7 942.5,628 925.8,632.2 907.9,635.2 890,636.7 872.2,636.8 854.3,635.6 836.4,633 818.5,629.1 814.9,628 800.7,624.1 782.8,618 777.3,615.6 764.9,610.7 749.2,603.2 747.1,602.3 729.2,592.8 725.9,590.8 711.3,582.4 705.2,578.4 693.5,571.1 685.8,566 675.6,559.4 666.9,553.7 657.7,547.8 647.2,541.3 639.9,537 625.1,528.9 622,527.3 604.1,519 598.3,516.5 586.3,511.8 568.4,505.4 564.5,504.1 550.5,499.5 532.7,493.8 526.6,491.8 514.8,487.7 496.9,481 493.2,479.4 479.1,472.9 467.9,467 461.2,462.9 449.4,454.6 443.3,449.4 435.8,442.2 426,429.8 425.5,429 419.1,417.5 414.5,405.1 411.8,392.7 410.8,380.3 411.2,367.9 412.8,355.6 415.4,343.2 418.9,330.8 423,318.4 425.5,311.6 427.7,306 432.5,293.6 437.4,281.3 442,268.9 443.3,264.5 446,256.5 449.3,244.1 451.9,231.7 453.7,219.4 455.1,207 456.4,194.6 457.7,182.2ZM961.8,157.4 979.4,157.4 997,157.4 997.2,157.8 1007.2,169.8 1015.1,179 1018.1,182.2 1030.2,194.6 1033,197.2 1033,207 1033,219.4 1033,231.7 1033,232.3 1032.3,231.7 1017.9,219.4 1015.1,216.8 1004.5,207 997.2,199.8 992.2,194.6 981,182.2 979.4,180.3 971.1,169.8Z"/>
<path fill="#dcd5d6" d="M425.3,157.4 425.5,157.4 443.3,157.4 461.2,157.4 461.9,157.4 461.2,161.4 459.5,169.8 457.7,182.2 456.4,194.6 455.1,207 453.7,219.4 451.9,231.7 449.3,244.1 446,256.5 443.3,264.5 442,268.9 437.4,281.3 432.5,293.6 427.7,306 425.5,311.6 423,318.4 418.9,330.8 415.4,343.2 412.8,355.6 411.2,367.9 410.8,380.3 411.8,392.7 414.5,405.1 419.1,417.5 425.5,429 426,429.8 435.8,442.2 443.3,449.4 449.4,454.6 461.2,462.9 467.9,467 479.1,472.9 493.2,479.4 496.9,481 514.8,487.7 526.6,491.8 532.7,493.8 550.5,499.5 564.5,504.1 568.4,505.4 586.3,511.8 598.3,516.5 604.1,519 622,527.3 625.1,528.9 639.9,537 647.2,541.3 657.7,547.8 666.9,553.7 675.6,559.4 685.8,566 693.5,571.1 705.2,578.4 711.3,582.4 725.9,590.8 729.2,592.8 747.1,602.3 749.2,603.2 764.9,610.7 777.3,615.6 782.8,618 800.7,624.1 814.9,628 818.5,629.1 836.4,633 854.3,635.6 872.2,636.8 890,636.7 907.9,635.2 925.8,632.2 942.5,628 943.6,627.7 961.5,622.1 978,615.6 979.4,615 997.2,607.3 1005.7,603.2 1015.1,598.7 1030.5,590.8 1033,589.6 1033,590.8 1033,603.2 1033,615.6 1033,623.2 1022.1,628 1015.1,631.1 997.2,638.1 990.8,640.3 979.4,644.3 961.5,649.2 943.6,652.6 943.1,652.7 925.8,655 907.9,655.9 890,655.3 872.2,653.4 868.8,652.7 854.3,650.5 836.4,646.4 818.5,641 816.8,640.3 800.7,635 783.4,628 782.8,627.8 764.9,619.9 756.8,615.6 747.1,610.9 733.4,603.2 729.2,601 712.3,590.8 711.3,590.2 693.5,578.8 692.9,578.4 675.6,566.9 674.3,566 657.7,555.1 655.6,553.7 639.9,543.9 635.4,541.3 622,533.8 612.2,528.9 604.1,525.1 586.3,517.5 583.7,516.5 568.4,510.9 550.5,504.8 548.5,504.1 532.7,498.9 514.8,492.9 511.5,491.8 496.9,486.3 480.5,479.4 479.1,478.7 461.2,469.3 457.2,467 443.3,457.3 439.9,454.6 427.2,442.2 425.5,440.1 417.8,429.8 411.1,417.5 407.6,407.9 406.5,405.1 403.7,392.7 402.5,380.3 402.5,367.9 403.5,355.6 405.4,343.2 407.6,332.8 408,330.8 411.1,318.4 414.4,306 417.7,293.6 420.9,281.3 423.6,268.9 425.5,258.1 425.8,256.5 427,244.1 427.5,231.7 427.3,219.4 426.6,207 425.8,194.6 425.5,188.7 425,182.2 424.7,169.8ZM997,157.4 997.2,157.4 1015.1,157.4 1033,157.4 1033,169.8 1033,182.2 1033,194.6 1033,197.2 1030.2,194.6 1018.1,182.2 1015.1,179 1007.2,169.8 997.2,157.8Z"/>
<path fill="#dbdbdb" d="M367,157.4 371.9,157.4 389.7,157.4 407.6,157.4 425.3,157.4 424.7,169.8 425,182.2 425.5,188.7 425.8,194.6 426.6,207 427.3,219.4 427.5,231.7 427,244.1 425.8,256.5 425.5,258.1 423.6,268.9 420.9,281.3 417.7,293.6 414.4,306 411.1,318.4 408,330.8 407.6,332.8 405.4,343.2 403.5,355.6 402.5,367.9 402.5,380.3 403.7,392.7 406.5,405.1 407.6,407.9 411.1,417.5 417.8,429.8 425.5,440.1 427.2,442.2 439.9,454.6 443.3,457.3 457.2,467 461.2,469.3 479.1,478.7 480.5,479.4 496.9,486.3 511.5,491.8 514.8,492.9 532.7,498.9 548.5,504.1 550.5,504.8 568.4,510.9 583.7,516.5 586.3,517.5 604.1,525.1 612.2,528.9 622,533.8 635.4,541.3 639.9,543.9 655.6,553.7 657.7,555.1 674.3,566 675.6,566.9 692.9,578.4 693.5,578.8 711.3,590.2 712.3,590.8 729.2,601 733.4,603.2 747.1,610.9 756.8,615.6 764.9,619.9 782.8,627.8 783.4,628 800.7,635 816.8,640.3 818.5,641 836.4,646.4 854.3,650.5 868.8,652.7 872.2,653.4 890,655.3 907.9,655.9 925.8,655 943.1,652.7 943.6,652.6 961.5,649.2 979.4,644.3 990.8,640.3 997.2,638.1 1015.1,631.1 1022.1,628 1033,623.2 1033,628 1033,640.3 1033,652.7 1033,665.1 1033,677.5 1033,685.5 1015.1,689.3 1011.1,689.9 997.2,692.2 979.4,693.6 961.5,693.5 943.6,691.9 932.2,689.9 925.8,689.1 907.9,685.6 890,680.9 880.6,677.5 872.2,675.3 854.3,669.3 844.7,665.1 836.4,662.4 818.5,655.1 813.9,652.7 800.7,647.3 786.8,640.3 782.8,638.7 764.9,629.6 762.2,628 747.1,620 739.9,615.6 729.2,609.5 719.3,603.2 711.3,598.4 700,590.8 693.5,586.6 681.6,578.4 675.6,574.5 663.3,566 657.7,562.3 644.4,553.7 639.9,550.8 623.7,541.3 622,540.4 604.1,531.2 599.2,528.9 586.3,523.3 568.9,516.5 568.4,516.3 550.5,510.1 532.8,504.1 532.7,504.1 514.8,498.1 497.3,491.8 496.9,491.6 479.1,484.2 468.7,479.4 461.2,475.5 447,467 443.3,464.4 430.7,454.6 425.5,449.5 418.6,442.2 409.6,429.8 407.6,426.1 403,417.5 398.5,405.1 395.6,392.7 394.1,380.3 393.6,367.9 394.1,355.6 395.3,343.2 396.9,330.8 398.8,318.4 400.7,306 402.5,293.6 403.7,281.3 404.2,268.9 403.8,256.5 402.2,244.1 399.4,231.7 395.5,219.4 390.8,207 389.7,204 384.9,194.6 378.7,182.2 372.9,169.8 371.9,166.9Z"/>
<path fill="#dbdbdb" d="M157.4,157.4 175.3,157.4 193.2,157.4 211,157.4 228.9,157.4 246.8,157.4 264.6,157.4 282.5,157.4 300.4,157.4 318.2,157.4 336.1,157.4 354,157.4 367,157.4 371.9,166.9 372.9,169.8 378.7,182.2 384.9,194.6 389.7,204 390.8,207 395.5,219.4 399.4,231.7 402.2,244.1 403.8,256.5 404.2,268.9 403.7,281.3 402.5,293.6 400.7,306 398.8,318.4 396.9,330.8 395.3,343.2 394.1,355.6 393.6,367.9 394.1,380.3 395.6,392.7 398.5,405.1 403,417.5 407.6,426.1 409.6,429.8 418.6,442.2 425.5,449.5 430.7,454.6 443.3,464.4 447,467 461.2,475.5 468.7,479.4 479.1,484.2 496.9,491.6 497.3,491.8 514.8,498.1 532.7,504.1 532.8,504.1 550.5,510.1 568.4,516.3 568.9,516.5 586.3,523.3 599.2,528.9 604.1,531.2 622,540.4 623.7,541.3 639.9,550.8 644.4,553.7 657.7,562.3 663.3,566 675.6,574.5 681.6,578.4 693.5,586.6 700,590.8 711.3,598.4 719.3,603.2 729.2,609.5 739.9,615.6 747.1,620 762.2,628 764.9,629.6 782.8,638.7 786.8,640.3 800.7,647.3 813.9,652.7 818.5,655.1 836.4,662.4 844.7,665.1 854.3,669.3 872.2,675.3 880.6,677.5 890,680.9 907.9,685.6 925.8,689.1 932.2,689.9 943.6,691.9 961.5,693.5 979.4,693.6 997.2,692.2 1011.1,689.9 1015.1,689.3 1033,685.5 1033,689.9 1033,702.2 1033,714.6 1033,727 1033,739.4 1033,751.8 1033,764.2 1015.1,764.2 997.2,764.2 979.4,764.2 961.5,764.2 943.6,764.2 925.8,764.2 907.9,764.2 890,764.2 877,764.2 880.2,751.8 880.2,739.4 876.6,727 872.2,720.3 869.3,714.6 858.4,702.2 854.3,699.3 843.9,689.9 836.4,685.2 826.3,677.5 818.5,673.2 806.6,665.1 800.7,662 785.8,652.7 782.8,651.2 764.9,640.5 764.8,640.3 747.1,629.7 744.6,628 729.2,618.5 725.1,615.6 711.3,606.8 706.3,603.2 693.5,594.6 688.2,590.8 675.6,582.1 670.5,578.4 657.7,569.7 652.4,566 639.9,557.8 633.3,553.7 622,547 611.7,541.3 604.1,537.4 586.3,529 585.9,528.9 568.4,521.9 553.9,516.5 550.5,515.3 532.7,509.3 517.6,504.1 514.8,503.2 496.9,496.9 483.9,491.8 479.1,489.8 461.2,481.5 457.1,479.4 443.3,471.3 436.9,467 425.5,458 421.6,454.6 410,442.2 407.6,438.8 401.3,429.8 394.9,417.5 390.4,405.1 389.7,402.1 387.3,392.7 385.4,380.3 384.5,367.9 384.4,355.6 384.8,343.2 385.4,330.8 386.1,318.4 386.5,306 386.3,293.6 385.2,281.3 382.8,268.9 378.7,256.5 372.8,244.1 371.9,242.4 363.5,231.7 354,221.5 351,219.4 336.1,208.8 332,207 318.2,200.4 300.4,195.4 294.8,194.6 282.5,192.4 264.6,191.5 246.8,192.2 228.9,194.5 228.4,194.6 211,197.5 193.2,201.8 176.7,207 175.3,207.4 157.4,213.4 157.4,207 157.4,194.6 157.4,182.2 157.4,169.8Z"/>
<path fill="#d6d7db" d="M228.4,194.6 228.9,194.5 246.8,192.2 264.6,191.5 282.5,192.4 294.8,194.6 300.4,195.4 318.2,200.4 332,207 336.1,208.8 351,219.4 354,221.5 363.5,231.7 371.9,242.4 372.8,244.1 378.7,256.5 382.8,268.9 385.2,281.3 386.3,293.6 386.5,306 386.1,318.4 385.4,330.8 384.8,343.2 384.4,355.6 384.5,367.9 385.4,380.3 387.3,392.7 389.7,402.1 390.4,405.1 394.9,417.5 401.3,429.8 407.6,438.8 410,442.2 421.6,454.6 425.5,458 436.9,467 443.3,471.3 457.1,479.4 461.2,481.5 479.1,489.8 483.9,491.8 496.9,496.9 514.8,503.2 517.6,504.1 532.7,509.3 550.5,515.3 553.9,516.5 568.4,521.9 585.9,528.9 586.3,529 604.1,537.4 611.7,541.3 622,547 633.3,553.7 639.9,557.8 652.4,566 657.7,569.7 670.5,578.4 675.6,582.1 688.2,590.8 693.5,594.6 706.3,603.2 711.3,606.8 725.1,615.6 729.2,618.5 744.6,628 747.1,629.7 764.8,640.3 764.9,640.5 782.8,651.2 785.8,652.7 800.7,662 806.6,665.1 818.5,673.2 826.3,677.5 836.4,685.2 843.9,689.9 854.3,699.3 858.4,702.2 869.3,714.6 872.2,720.3 876.6,727 880.2,739.4 880.2,751.8 877,764.2 872.2,764.2 854.3,764.2 836.4,764.2 818.5,764.2 813.8,764.2 818.5,755.2 820.4,751.8 824.5,739.4 825.3,727 822.7,714.6 818.5,706.5 816.8,702.2 807.8,689.9 800.7,683.2 795.6,677.5 782.8,667.1 780.8,665.1 764.9,653.3 764.2,652.7 747.1,640.6 746.8,640.3 729.2,628.1 729.1,628 711.4,615.6 711.3,615.5 694,603.2 693.5,602.8 676.9,590.8 675.6,589.9 659.6,578.4 657.7,577.2 641.6,566 639.9,564.9 622.1,553.7 622,553.6 604.1,543.6 599.5,541.3 586.3,535 572.2,528.9 568.4,527.4 550.5,520.7 538.7,516.5 532.7,514.5 514.8,508.4 502.7,504.1 496.9,502.1 479.1,495.2 470.9,491.8 461.2,487.3 445.9,479.4 443.3,477.9 426.9,467 425.5,465.8 412.4,454.6 407.6,449.3 401.3,442.2 393,429.8 389.7,423.4 386.6,417.5 382,405.1 378.7,392.7 376.6,380.3 375.2,367.9 374.4,355.6 373.9,343.2 373.4,330.8 372.7,318.4 371.9,310.9 371.2,306 368.5,293.6 364,281.3 357.4,268.9 354,263.9 346.5,256.5 336.1,247.9 328.7,244.1 318.2,239 300.4,234 282.5,231.8 278.8,231.7 264.6,231.5 261.2,231.7 246.8,232.7 228.9,235.4 211,239.4 195.7,244.1 193.2,244.8 175.3,251 162.6,256.5 157.4,258.6 157.4,256.5 157.4,244.1 157.4,231.7 157.4,219.4 157.4,213.4 175.3,207.4 176.7,207 193.2,201.8 211,197.5Z"/>
<path fill="#ced0dc" d="M261.2,231.7 264.6,231.5 278.8,231.7 282.5,231.8 300.4,234 318.2,239 328.7,244.1 336.1,247.9 346.5,256.5 354,263.9 357.4,268.9 364,281.3 368.5,293.6 371.2,306 371.9,310.9 372.7,318.4 373.4,330.8 373.9,343.2 374.4,355.6 375.2,367.9 376.6,380.3 378.7,392.7 382,405.1 386.6,417.5 389.7,423.4 393,429.8 401.3,442.2 407.6,449.3 412.4,454.6 425.5,465.8 426.9,467 443.3,477.9 445.9,479.4 461.2,487.3 470.9,491.8 479.1,495.2 496.9,502.1 502.7,504.1 514.8,508.4 532.7,514.5 538.7,516.5 550.5,520.7 568.4,527.4 572.2,528.9 586.3,535 599.5,541.3 604.1,543.6 622,553.6 622.1,553.7 639.9,564.9 641.6,566 657.7,577.2 659.6,578.4 675.6,589.9 676.9,590.8 693.5,602.8 694,603.2 711.3,615.5 711.4,615.6 729.1,628 729.2,628.1 746.8,640.3 747.1,640.6 764.2,652.7 764.9,653.3 780.8,665.1 782.8,667.1 795.6,677.5 800.7,683.2 807.8,689.9 816.8,702.2 818.5,706.5 822.7,714.6 825.3,727 824.5,739.4 820.4,751.8 818.5,755.2 813.8,764.2 800.7,764.2 782.8,764.2 772.1,764.2 781.2,751.8 782.8,748.6 787.5,739.4 790.8,727 790.8,714.6 787.6,702.2 782.8,693.6 781.1,689.9 772,677.5 764.9,670.7 760,665.1 747.1,653.7 746.1,652.7 730.9,640.3 729.2,639.1 715.1,628 711.3,625.3 698.8,615.6 693.5,611.8 682.4,603.2 675.6,598.3 665.8,590.8 657.7,585 648.8,578.4 639.9,572.3 630.7,566 622,560.5 610.6,553.7 604.1,550.1 587,541.3 586.3,540.9 568.4,533.1 558,528.9 550.5,526.1 532.7,519.8 523.4,516.5 514.8,513.6 496.9,507.4 488.1,504.1 479.1,500.7 461.2,493.2 458.1,491.8 443.3,484.3 434.8,479.4 425.5,473.2 416.9,467 407.6,458.8 403.2,454.6 392.6,442.2 389.7,437.9 384.3,429.8 378.1,417.5 373.5,405.1 371.9,399.1 369.9,392.7 367.2,380.3 365.2,367.9 363.6,355.6 362,343.2 360.1,330.8 357.6,318.4 354,306.4 353.8,306 347.3,293.6 337.8,281.3 336.1,279.5 320.6,268.9 318.2,267.5 300.4,261.1 282.5,258.3 264.6,257.8 246.8,259.1 228.9,262.1 211,266.6 204.3,268.9 193.2,272.5 175.3,279.7 171.9,281.3 157.4,288.1 157.4,281.3 157.4,268.9 157.4,258.6 162.6,256.5 175.3,251 193.2,244.8 195.7,244.1 211,239.4 228.9,235.4 246.8,232.7Z"/>
<path fill="#c5c7dc" d="M204.3,268.9 211,266.6 228.9,262.1 246.8,259.1 264.6,257.8 282.5,258.3 300.4,261.1 318.2,267.5 320.6,268.9 336.1,279.5 337.8,281.3 347.3,293.6 353.8,306 354,306.4 357.6,318.4 360.1,330.8 362,343.2 363.6,355.6 365.2,367.9 367.2,380.3 369.9,392.7 371.9,399.1 373.5,405.1 378.1,417.5 384.3,429.8 389.7,437.9 392.6,442.2 403.2,454.6 407.6,458.8 416.9,467 425.5,473.2 434.8,479.4 443.3,484.3 458.1,491.8 461.2,493.2 479.1,500.7 488.1,504.1 496.9,507.4 514.8,513.6 523.4,516.5 532.7,519.8 550.5,526.1 558,528.9 568.4,533.1 586.3,540.9 587,541.3 604.1,550.1 610.6,553.7 622,560.5 630.7,566 639.9,572.3 648.8,578.4 657.7,585 665.8,590.8 675.6,598.3 682.4,603.2 693.5,611.8 698.8,615.6 711.3,625.3 715.1,628 729.2,639.1 730.9,640.3 746.1,652.7 747.1,653.7 760,665.1 764.9,670.7 772,677.5 781.1,689.9 782.8,693.6 787.6,702.2 790.8,714.6 790.8,727 787.5,739.4 782.8,748.6 781.2,751.8 772.1,764.2 764.9,764.2 747.1,764.2 738.1,764.2 747.1,754.3 749.3,751.8 757.6,739.4 762.6,727 764.4,714.6 763.2,702.2 758.9,689.9 751.6,677.5 747.1,672.2 741.8,665.1 729.7,652.7 729.2,652.4 716.3,640.3 711.3,636.4 701.7,628 693.5,621.5 686.5,615.6 675.6,607.1 670.9,603.2 657.7,593.1 654.8,590.8 639.9,579.8 637.9,578.4 622,567.6 619.6,566 604.1,556.7 598.8,553.7 586.3,547.2 573.8,541.3 568.4,538.9 550.5,531.7 543.2,528.9 532.7,525.2 514.8,519 507.8,516.5 496.9,512.8 479.1,506.3 473.7,504.1 461.2,499 445.6,491.8 443.3,490.6 425.5,480.5 423.7,479.4 407.6,467.6 406.9,467 393.7,454.6 389.7,449.8 383.4,442.2 375.5,429.8 371.9,422.4 369.3,417.5 364.3,405.1 360.5,392.7 357.4,380.3 354.9,367.9 354,363.1 352.2,355.6 349.2,343.2 345.3,330.8 340.2,318.4 336.1,310.9 332.2,306 319.1,293.6 318.2,292.9 300.4,284.3 286.8,281.3 282.5,280.3 264.6,279.3 246.8,280.6 243.2,281.3 228.9,283.7 211,288.5 196.7,293.6 193.2,294.9 175.3,302.8 169,306 157.4,312.2 157.4,306 157.4,293.6 157.4,288.1 171.9,281.3 175.3,279.7 193.2,272.5Z"/>
<path fill="#bbbfdc" d="M243.2,281.3 246.8,280.6 264.6,279.3 282.5,280.3 286.8,281.3 300.4,284.3 318.2,292.9 319.1,293.6 332.2,306 336.1,310.9 340.2,318.4 345.3,330.8 349.2,343.2 352.2,355.6 354,363.1 354.9,367.9 357.4,380.3 360.5,392.7 364.3,405.1 369.3,417.5 371.9,422.4 375.5,429.8 383.4,442.2 389.7,449.8 393.7,454.6 406.9,467 407.6,467.6 423.7,479.4 425.5,480.5 443.3,490.6 445.6,491.8 461.2,499 473.7,504.1 479.1,506.3 496.9,512.8 507.8,516.5 514.8,519 532.7,525.2 543.2,528.9 550.5,531.7 568.4,538.9 573.8,541.3 586.3,547.2 598.8,553.7 604.1,556.7 619.6,566 622,567.6 637.9,578.4 639.9,579.8 654.8,590.8 657.7,593.1 670.9,603.2 675.6,607.1 686.5,615.6 693.5,621.5 701.7,628 711.3,636.4 716.3,640.3 729.2,652.4 729.7,652.7 741.8,665.1 747.1,672.2 751.6,677.5 758.9,689.9 763.2,702.2 764.4,714.6 762.6,727 757.6,739.4 749.3,751.8 747.1,754.3 738.1,764.2 729.2,764.2 711.3,764.2 707.4,764.2 711.3,760.7 720.8,751.8 729.2,741.5 730.8,739.4 737.8,727 741.4,714.6 741.7,702.2 739,689.9 733.2,677.5 729.2,671.8 724.9,665.1 714.4,652.7 711.3,649.8 702.3,640.3 693.5,632.5 688.8,628 675.6,616.6 674.5,615.6 659.6,603.2 657.7,601.8 643.8,590.8 639.9,587.9 626.9,578.4 622,575.1 608.2,566 604.1,563.6 586.6,553.7 586.3,553.5 568.4,545 560,541.3 550.5,537.5 532.7,530.7 527.7,528.9 514.8,524.5 496.9,518.3 492.1,516.5 479.1,511.9 461.2,504.9 459.4,504.1 443.3,497 433,491.8 425.5,487.5 412.5,479.4 407.6,475.8 396.5,467 389.7,460.4 383.9,454.6 374.1,442.2 371.9,438.6 366.1,429.8 359.8,417.5 354.9,405.1 354,402.1 350.5,392.7 346.6,380.3 343,367.9 339.3,355.6 336.1,346.3 334.7,343.2 327.7,330.8 318.4,318.4 318.2,318.2 300.4,306.1 300.2,306 282.5,300.4 264.6,298.7 246.8,299.6 228.9,302.8 217.8,306 211,307.9 193.2,314.8 185.7,318.4 175.3,323.5 162.7,330.8 157.4,334 157.4,330.8 157.4,318.4 157.4,312.2 169,306 175.3,302.8 193.2,294.9 196.7,293.6 211,288.5 228.9,283.7Z"/>
<path fill="#b0b6dc" d="M217.8,306 228.9,302.8 246.8,299.6 264.6,298.7 282.5,300.4 300.2,306 300.4,306.1 318.2,318.2 318.4,318.4 327.7,330.8 334.7,343.2 336.1,346.3 339.3,355.6 343,367.9 346.6,380.3 350.5,392.7 354,402.1 354.9,405.1 359.8,417.5 366.1,429.8 371.9,438.6 374.1,442.2 383.9,454.6 389.7,460.4 396.5,467 407.6,475.8 412.5,479.4 425.5,487.5 433,491.8 443.3,497 459.4,504.1 461.2,504.9 479.1,511.9 492.1,516.5 496.9,518.3 514.8,524.5 527.7,528.9 532.7,530.7 550.5,537.5 560,541.3 568.4,545 586.3,553.5 586.6,553.7 604.1,563.6 608.2,566 622,575.1 626.9,578.4 639.9,587.9 643.8,590.8 657.7,601.8 659.6,603.2 674.5,615.6 675.6,616.6 688.8,628 693.5,632.5 702.3,640.3 711.3,649.8 714.4,652.7 724.9,665.1 729.2,671.8 733.2,677.5 739,689.9 741.7,702.2 741.4,714.6 737.8,727 730.8,739.4 729.2,741.5 720.8,751.8 711.3,760.7 707.4,764.2 693.5,764.2 678.2,764.2 693.5,752 693.7,751.8 705.8,739.4 711.3,731.6 714.4,727 719.7,714.6 721.6,702.2 720.3,689.9 716,677.5 711.3,669.6 708.9,665.1 699.7,652.7 693.5,646 688.6,640.3 676.2,628 675.6,627.5 662.6,615.6 657.7,611.5 648.1,603.2 639.9,596.7 632.5,590.8 622,583.1 615.5,578.4 604.1,571 596.2,566 586.3,560.4 573.4,553.7 568.4,551.3 550.5,543.4 545.3,541.3 532.7,536.5 514.8,530.1 511.5,528.9 496.9,524 479.1,517.7 476,516.5 461.2,511 444.9,504.1 443.3,503.4 425.5,494.7 420.2,491.8 407.6,483.9 400.9,479.4 389.7,470.3 385.8,467 373.8,454.6 371.9,452.1 364,442.2 356.4,429.8 354,425 349.8,417.5 344.3,405.1 339.6,392.7 336.1,382.6 335.1,380.3 329.9,367.9 324.1,355.6 318.2,345.2 316.5,343.2 304,330.8 300.4,327.9 282.5,320 272.8,318.4 264.6,317.2 246.8,317.7 242.7,318.4 228.9,320.8 211,326.2 200,330.8 193.2,333.7 175.5,343.2 175.3,343.3 157.4,355 157.4,343.2 157.4,334 162.7,330.8 175.3,323.5 185.7,318.4 193.2,314.8 211,307.9Z"/>
<path fill="#a6abdc" d="M242.7,318.4 246.8,317.7 264.6,317.2 272.8,318.4 282.5,320 300.4,327.9 304,330.8 316.5,343.2 318.2,345.2 324.1,355.6 329.9,367.9 335.1,380.3 336.1,382.6 339.6,392.7 344.3,405.1 349.8,417.5 354,425 356.4,429.8 364,442.2 371.9,452.1 373.8,454.6 385.8,467 389.7,470.3 400.9,479.4 407.6,483.9 420.2,491.8 425.5,494.7 443.3,503.4 444.9,504.1 461.2,511 476,516.5 479.1,517.7 496.9,524 511.5,528.9 514.8,530.1 532.7,536.5 545.3,541.3 550.5,543.4 568.4,551.3 573.4,553.7 586.3,560.4 596.2,566 604.1,571 615.5,578.4 622,583.1 632.5,590.8 639.9,596.7 648.1,603.2 657.7,611.5 662.6,615.6 675.6,627.5 676.2,628 688.6,640.3 693.5,646 699.7,652.7 708.9,665.1 711.3,669.6 716,677.5 720.3,689.9 721.6,702.2 719.7,714.6 714.4,727 711.3,731.6 705.8,739.4 693.7,751.8 693.5,752 678.2,764.2 675.6,764.2 657.7,764.2 648.7,764.2 657.7,758.3 666.7,751.8 675.6,744.4 681.1,739.4 691.7,727 693.5,724.1 698.7,714.6 702.1,702.2 702.2,689.9 699.2,677.5 693.5,665.2 693.4,665.1 685.3,652.7 675.6,640.9 675.2,640.3 663.5,628 657.7,622.5 650.6,615.6 639.9,606.2 636.5,603.2 622,591.5 621.1,590.8 604.1,578.6 603.8,578.4 586.3,567.5 583.7,566 568.4,558.1 559.3,553.7 550.5,549.8 532.7,542.5 529.4,541.3 514.8,536.1 496.9,529.8 494.3,528.9 479.1,523.8 461.2,517.2 459.5,516.5 443.3,510.1 430.1,504.1 425.5,501.9 407.6,492 407.1,491.8 389.7,479.9 389,479.4 374.5,467 371.9,464.1 362.8,454.6 354,442.7 353.7,442.2 345.5,429.8 338.9,417.5 336.1,411.1 332.9,405.1 327,392.7 321.3,380.3 318.2,374 314.2,367.9 304.7,355.6 300.4,350.8 288.5,343.2 282.5,339.9 264.6,335.6 246.8,335.5 228.9,338.5 214.3,343.2 211,344.2 193.2,352.4 187.7,355.6 175.3,363.1 168.5,367.9 157.4,376.4 157.4,367.9 157.4,355.6 157.4,355 175.3,343.3 175.5,343.2 193.2,333.7 200,330.8 211,326.2 228.9,320.8Z"/>
<path fill="#9aa2db" d="M214.3,343.2 228.9,338.5 246.8,335.5 264.6,335.6 282.5,339.9 288.5,343.2 300.4,350.8 304.7,355.6 314.2,367.9 318.2,374 321.3,380.3 327,392.7 332.9,405.1 336.1,411.1 338.9,417.5 345.5,429.8 353.7,442.2 354,442.7 362.8,454.6 371.9,464.1 374.5,467 389,479.4 389.7,479.9 407.1,491.8 407.6,492 425.5,501.9 430.1,504.1 443.3,510.1 459.5,516.5 461.2,517.2 479.1,523.8 494.3,528.9 496.9,529.8 514.8,536.1 529.4,541.3 532.7,542.5 550.5,549.8 559.3,553.7 568.4,558.1 583.7,566 586.3,567.5 603.8,578.4 604.1,578.6 621.1,590.8 622,591.5 636.5,603.2 639.9,606.2 650.6,615.6 657.7,622.5 663.5,628 675.2,640.3 675.6,640.9 685.3,652.7 693.4,665.1 693.5,665.2 699.2,677.5 702.2,689.9 702.1,702.2 698.7,714.6 693.5,724.1 691.7,727 681.1,739.4 675.6,744.4 666.7,751.8 657.7,758.3 648.7,764.2 639.9,764.2 622,764.2 616.9,764.2 622,761.5 638.5,751.8 639.9,750.9 655.6,739.4 657.7,737.6 668.5,727 675.6,717.5 677.5,714.6 682.6,702.2 684.2,689.9 682.5,677.5 677.9,665.1 675.6,661.2 670.8,652.7 661.6,640.3 657.7,636.1 650.7,628 639.9,617.2 638.3,615.6 624.5,603.2 622,601.2 608.9,590.8 604.1,587.4 591.1,578.4 586.3,575.4 570.2,566 568.4,565.1 550.5,556.6 544,553.7 532.7,549.1 514.8,542.3 512,541.3 496.9,536.2 479.1,530 475.9,528.9 461.2,523.9 443.3,516.9 442.3,516.5 425.5,509.4 414.7,504.1 407.6,500.4 393.2,491.8 389.7,489.4 376.1,479.4 371.9,475.7 362.3,467 354,457.7 351.2,454.6 341.7,442.2 336.1,433.2 333.8,429.8 326.3,417.5 319.8,405.1 318.2,402 312.2,392.7 304,380.3 300.4,375.3 291.9,367.9 282.5,360.8 267.7,355.6 264.6,354.6 246.8,353.7 235.4,355.6 228.9,356.6 211,362.8 200.6,367.9 193.2,371.9 180.5,380.3 175.3,384.1 165,392.7 157.4,399.8 157.4,392.7 157.4,380.3 157.4,376.4 168.5,367.9 175.3,363.1 187.7,355.6 193.2,352.4 211,344.2Z"/>
<path fill="#8f97db" d="M235.4,355.6 246.8,353.7 264.6,354.6 267.7,355.6 282.5,360.8 291.9,367.9 300.4,375.3 304,380.3 312.2,392.7 318.2,402 319.8,405.1 326.3,417.5 333.8,429.8 336.1,433.2 341.7,442.2 351.2,454.6 354,457.7 362.3,467 371.9,475.7 376.1,479.4 389.7,489.4 393.2,491.8 407.6,500.4 414.7,504.1 425.5,509.4 442.3,516.5 443.3,516.9 461.2,523.9 475.9,528.9 479.1,530 496.9,536.2 512,541.3 514.8,542.3 532.7,549.1 544,553.7 550.5,556.6 568.4,565.1 570.2,566 586.3,575.4 591.1,578.4 604.1,587.4 608.9,590.8 622,601.2 624.5,603.2 638.3,615.6 639.9,617.2 650.7,628 657.7,636.1 661.6,640.3 670.8,652.7 675.6,661.2 677.9,665.1 682.5,677.5 684.2,689.9 682.6,702.2 677.5,714.6 675.6,717.5 668.5,727 657.7,737.6 655.6,739.4 639.9,750.9 638.5,751.8 622,761.5 616.9,764.2 604.1,764.2 586.3,764.2 578.6,764.2 586.3,761.2 604.1,753 606.5,751.8 622,743.1 627.7,739.4 639.9,730.4 643.8,727 655.3,714.6 657.7,710.8 662.4,702.2 665.6,689.9 665.4,677.5 662,665.1 657.7,656.4 656,652.7 647.6,640.3 639.9,631 637.4,628 625.4,615.6 622,612.5 611.7,603.2 604.1,597.2 595.9,590.8 586.3,584.2 577.5,578.4 568.4,573.2 555.1,566 550.5,563.9 532.7,556 526.9,553.7 514.8,549.2 496.9,542.8 492.6,541.3 479.1,536.9 461.2,530.8 456,528.9 443.3,524.4 425.5,517.2 424,516.5 407.6,509.1 398.2,504.1 389.7,499.2 378.1,491.8 371.9,487.1 361.9,479.4 354,471.8 348.8,467 338,454.6 336.1,452 328.2,442.2 320,429.8 318.2,426.8 311.4,417.5 303.1,405.1 300.4,401 292.3,392.7 282.5,383.5 276.3,380.3 264.6,375.1 246.8,373.2 228.9,376 217,380.3 211,382.7 193.7,392.7 193.2,393 178.2,405.1 175.3,407.7 166.1,417.5 157.4,428 157.4,417.5 157.4,405.1 157.4,399.8 165,392.7 175.3,384.1 180.5,380.3 193.2,371.9 200.6,367.9 211,362.8 228.9,356.6ZM157.4,603.2 157.4,595 160.1,603.2 162.2,615.6 161.6,628 157.8,640.3 157.4,641 157.4,640.3 157.4,628 157.4,615.6Z"/>
<path fill="#828ddb" d="M217,380.3 228.9,376 246.8,373.2 264.6,375.1 276.3,380.3 282.5,383.5 292.3,392.7 300.4,401 303.1,405.1 311.4,417.5 318.2,426.8 320,429.8 328.2,442.2 336.1,452 338,454.6 348.8,467 354,471.8 361.9,479.4 371.9,487.1 378.1,491.8 389.7,499.2 398.2,504.1 407.6,509.1 424,516.5 425.5,517.2 443.3,524.4 456,528.9 461.2,530.8 479.1,536.9 492.6,541.3 496.9,542.8 514.8,549.2 526.9,553.7 532.7,556 550.5,563.9 555.1,566 568.4,573.2 577.5,578.4 586.3,584.2 595.9,590.8 604.1,597.2 611.7,603.2 622,612.5 625.4,615.6 637.4,628 639.9,631 647.6,640.3 656,652.7 657.7,656.4 662,665.1 665.4,677.5 665.6,689.9 662.4,702.2 657.7,710.8 655.3,714.6 643.8,727 639.9,730.4 627.7,739.4 622,743.1 606.5,751.8 604.1,753 586.3,761.2 578.6,764.2 568.4,764.2 550.5,764.2 532.7,764.2 514.8,764.2 499.8,764.2 514.8,762.9 532.7,759.9 550.5,755.7 563.2,751.8 568.4,750.1 586.3,743 593.9,739.4 604.1,734.1 615.4,727 622,722.2 630.6,714.6 639.9,703.4 640.7,702.2 645.9,689.9 647.3,677.5 645.3,665.1 640.5,652.7 639.9,651.8 632.8,640.3 623.4,628 622,626.5 611.6,615.6 604.1,608.7 598,603.2 586.3,594.1 581.9,590.8 568.4,582.1 562.4,578.4 550.5,572.2 538,566 532.7,563.7 514.8,556.6 507.1,553.7 496.9,550.2 479.1,544.3 470.2,541.3 461.2,538.4 443.3,532.4 433.9,528.9 425.5,525.8 407.6,518.3 403.7,516.5 389.7,509.6 379.9,504.1 371.9,499 361.2,491.8 354,486 345.9,479.4 336.1,469.5 333.4,467 322.3,454.6 318.2,449.2 312,442.2 302.6,429.8 300.4,426.8 291.3,417.5 282.5,408.2 277.4,405.1 264.6,397.9 246.8,394.8 228.9,397.7 211.5,405.1 211,405.3 194.2,417.5 193.2,418.3 182.2,429.8 175.3,438.6 172.8,442.2 166,454.6 160.9,467 157.5,479.4 157.4,480 157.4,479.4 157.4,467 157.4,454.6 157.4,442.2 157.4,429.8 157.4,428 166.1,417.5 175.3,407.7 178.2,405.1 193.2,393 193.7,392.7 211,382.7ZM157.4,516.5 157.4,514.2 157.8,516.5 161.2,528.9 166.1,541.3 172.2,553.7 175.3,559.2 179.8,566 188.4,578.4 193.2,585.4 197.7,590.8 207.5,603.2 211,608.6 217.2,615.6 225.8,628 228.9,635.8 231.7,640.3 230.4,652.7 228.9,654 215.6,665.1 211,667.1 194.6,677.5 193.2,678.3 179.9,689.9 175.3,694.6 170.3,702.2 166.2,714.6 167.8,727 175.3,737.7 177.3,739.4 193.2,746.4 211,749.6 228.9,749 246.8,745.6 264.6,740.5 268.2,739.4 282.5,732 294.2,727 300.4,722.4 318.2,716.6 336.1,718.4 354,725.5 356.4,727 371.9,733.6 383,739.4 389.7,741.9 407.6,749.3 413.9,751.8 425.5,755.3 443.3,759.8 461.2,763 475,764.2 461.2,764.2 443.3,764.2 425.5,764.2 407.6,764.2 389.7,764.2 371.9,764.2 354,764.2 336.1,764.2 318.2,764.2 300.4,764.2 282.5,764.2 264.6,764.2 246.8,764.2 228.9,764.2 211,764.2 193.2,764.2 175.3,764.2 157.4,764.2 157.4,751.8 157.4,739.4 157.4,727 157.4,714.6 157.4,702.2 157.4,689.9 157.4,677.5 157.4,665.1 157.4,652.7 157.4,641 157.8,640.3 161.6,628 162.2,615.6 160.1,603.2 157.4,595 157.4,590.8 157.4,578.4 157.4,566 157.4,553.7 157.4,541.3 157.4,528.9Z"/>
<path fill="#7583da" d="M211.5,405.1 228.9,397.7 246.8,394.8 264.6,397.9 277.4,405.1 282.5,408.2 291.3,417.5 300.4,426.8 302.6,429.8 312,442.2 318.2,449.2 322.3,454.6 333.4,467 336.1,469.5 345.9,479.4 354,486 361.2,491.8 371.9,499 379.9,504.1 389.7,509.6 403.7,516.5 407.6,518.3 425.5,525.8 433.9,528.9 443.3,532.4 461.2,538.4 470.2,541.3 479.1,544.3 496.9,550.2 507.1,553.7 514.8,556.6 532.7,563.7 538,566 550.5,572.2 562.4,578.4 568.4,582.1 581.9,590.8 586.3,594.1 598,603.2 604.1,608.7 611.6,615.6 622,626.5 623.4,628 632.8,640.3 639.9,651.8 640.5,652.7 645.3,665.1 647.3,677.5 645.9,689.9 640.7,702.2 639.9,703.4 630.6,714.6 622,722.2 615.4,727 604.1,734.1 593.9,739.4 586.3,743 568.4,750.1 563.2,751.8 550.5,755.7 532.7,759.9 514.8,762.9 499.8,764.2 496.9,764.2 479.1,764.2 475,764.2 461.2,763 443.3,759.8 425.5,755.3 413.9,751.8 407.6,749.3 389.7,741.9 383,739.4 371.9,733.6 356.4,727 354,725.5 336.1,718.4 318.2,716.6 300.4,722.4 294.2,727 282.5,732 268.2,739.4 264.6,740.5 246.8,745.6 228.9,749 211,749.6 193.2,746.4 177.3,739.4 175.3,737.7 167.8,727 166.2,714.6 170.3,702.2 175.3,694.6 179.9,689.9 193.2,678.3 194.6,677.5 211,667.1 215.6,665.1 228.9,654 230.4,652.7 231.7,640.3 228.9,635.8 225.8,628 217.2,615.6 211,608.6 207.5,603.2 197.7,590.8 193.2,585.4 188.4,578.4 179.8,566 175.3,559.2 172.2,553.7 166.1,541.3 161.2,528.9 157.8,516.5 157.4,514.2 157.4,504.1 157.4,491.8 157.4,480 157.5,479.4 160.9,467 166,454.6 172.8,442.2 175.3,438.6 182.2,429.8 193.2,418.3 194.2,417.5 211,405.3ZM228.9,424.1 218.5,429.8 211,434.8 203.7,442.2 194,454.6 193.2,456.1 188.2,467 184.7,479.4 183.4,491.8 184.2,504.1 187,516.5 191.8,528.9 193.2,531.4 199.2,541.3 208.7,553.7 211,556.4 220.9,566 228.9,573.2 235.8,578.4 246.8,586.4 253.8,590.8 264.6,597.5 274.9,603.2 282.5,607.4 298,615.6 300.4,616.9 318.2,626.7 320.3,628 336.1,637.7 340.1,640.3 354,650.1 357.4,652.7 371.9,664.6 372.4,665.1 385.1,677.5 389.7,682.1 397.1,689.9 407.6,700.5 409.3,702.2 423.1,714.6 425.5,716.4 441.8,727 443.3,727.8 461.2,735.2 477.2,739.4 479.1,739.8 496.9,741.7 514.8,741.7 532.7,739.8 534.8,739.4 550.5,736.1 568.4,730.6 577.2,727 586.3,723 600.6,714.6 604.1,712.1 615,702.2 622,692.8 623.7,689.9 627.2,677.5 627,665.1 623.5,652.7 622,649.9 616.8,640.3 607.9,628 604.1,623.8 596.5,615.6 586.3,606.2 582.8,603.2 568.4,592.4 566.1,590.8 550.5,581.6 544.9,578.4 532.7,572.6 517.8,566 514.8,564.9 496.9,558.6 482.9,553.7 479.1,552.4 461.2,547.1 443.8,541.3 443.3,541.1 425.5,535.5 408.3,528.9 407.6,528.6 389.7,521.3 380.1,516.5 371.9,512.2 358.5,504.1 354,501.1 341,491.8 336.1,487.6 326.3,479.4 318.2,471.2 313.6,467 302,454.6 300.4,452.6 289.1,442.2 282.5,435.5 273.6,429.8 264.6,424.2 246.8,420.6Z"/>
<path fill="#6877da" d="M218.5,429.8 228.9,424.1 246.8,420.6 264.6,424.2 273.6,429.8 282.5,435.5 289.1,442.2 300.4,452.6 302,454.6 313.6,467 318.2,471.2 326.3,479.4 336.1,487.6 341,491.8 354,501.1 358.5,504.1 371.9,512.2 380.1,516.5 389.7,521.3 407.6,528.6 408.3,528.9 425.5,535.5 443.3,541.1 443.8,541.3 461.2,547.1 479.1,552.4 482.9,553.7 496.9,558.6 514.8,564.9 517.8,566 532.7,572.6 544.9,578.4 550.5,581.6 566.1,590.8 568.4,592.4 582.8,603.2 586.3,606.2 596.5,615.6 604.1,623.8 607.9,628 616.8,640.3 622,649.9 623.5,652.7 627,665.1 627.2,677.5 623.7,689.9 622,692.8 615,702.2 604.1,712.1 600.6,714.6 586.3,723 577.2,727 568.4,730.6 550.5,736.1 534.8,739.4 532.7,739.8 514.8,741.7 496.9,741.7 479.1,739.8 477.2,739.4 461.2,735.2 443.3,727.8 441.8,727 425.5,716.4 423.1,714.6 409.3,702.2 407.6,700.5 397.1,689.9 389.7,682.1 385.1,677.5 372.4,665.1 371.9,664.6 357.4,652.7 354,650.1 340.1,640.3 336.1,637.7 320.3,628 318.2,626.7 300.4,616.9 298,615.6 282.5,607.4 274.9,603.2 264.6,597.5 253.8,590.8 246.8,586.4 235.8,578.4 228.9,573.2 220.9,566 211,556.4 208.7,553.7 199.2,541.3 193.2,531.4 191.8,528.9 187,516.5 184.2,504.1 183.4,491.8 184.7,479.4 188.2,467 193.2,456.1 194,454.6 203.7,442.2 211,434.8ZM228.9,465.5 227.7,467 221.2,479.4 218.8,491.8 219.9,504.1 224.1,516.5 228.9,525.2 231.4,528.9 242.4,541.3 246.8,545.3 257,553.7 264.6,559.1 275,566 282.5,570.6 295.5,578.4 300.4,581.2 316.7,590.8 318.2,591.7 336.1,602.5 337.1,603.2 354,614.2 355.9,615.6 371.9,626.8 373.3,628 389.3,640.3 389.7,640.7 404,652.7 407.6,655.9 418,665.1 425.5,671.9 431.8,677.5 443.3,687.5 446.4,689.9 461.2,700.6 464.2,702.2 479.1,709.7 494.7,714.6 496.9,715.2 514.8,717.5 532.7,717 547.5,714.6 550.5,714.1 568.4,708.2 580,702.2 586.3,698.3 595.5,689.9 603.6,677.5 604.1,675.2 605.8,665.1 604.1,653 604.1,652.7 598.5,640.3 590.3,628 586.3,623.3 579.1,615.6 568.4,605.9 565.1,603.2 550.5,593.1 547,590.8 532.7,583.2 523,578.4 514.8,575 496.9,568.1 491,566 479.1,562.4 461.2,557.1 449.7,553.7 443.3,551.9 425.5,547 408,541.3 407.6,541.2 389.7,535.4 374.2,528.9 371.9,527.9 354,519.4 348.8,516.5 336.1,508.8 328.9,504.1 318.2,496 312.3,491.8 300.4,481.5 297.3,479.4 282.5,467.4 281.7,467 264.6,457.8 246.8,455.8Z"/>
<path fill="#5a6cda" d="M227.7,467 228.9,465.5 246.8,455.8 264.6,457.8 281.7,467 282.5,467.4 297.3,479.4 300.4,481.5 312.3,491.8 318.2,496 328.9,504.1 336.1,508.8 348.8,516.5 354,519.4 371.9,527.9 374.2,528.9 389.7,535.4 407.6,541.2 408,541.3 425.5,547 443.3,551.9 449.7,553.7 461.2,557.1 479.1,562.4 491,566 496.9,568.1 514.8,575 523,578.4 532.7,583.2 547,590.8 550.5,593.1 565.1,603.2 568.4,605.9 579.1,615.6 586.3,623.3 590.3,628 598.5,640.3 604.1,652.7 604.1,653 605.8,665.1 604.1,675.2 603.6,677.5 595.5,689.9 586.3,698.3 580,702.2 568.4,708.2 550.5,714.1 547.5,714.6 532.7,717 514.8,717.5 496.9,715.2 494.7,714.6 479.1,709.7 464.2,702.2 461.2,700.6 446.4,689.9 443.3,687.5 431.8,677.5 425.5,671.9 418,665.1 407.6,655.9 404,652.7 389.7,640.7 389.3,640.3 373.3,628 371.9,626.8 355.9,615.6 354,614.2 337.1,603.2 336.1,602.5 318.2,591.7 316.7,590.8 300.4,581.2 295.5,578.4 282.5,570.6 275,566 264.6,559.1 257,553.7 246.8,545.3 242.4,541.3 231.4,528.9 228.9,525.2 224.1,516.5 219.9,504.1 218.8,491.8 221.2,479.4ZM354,563.5 353.4,566 354,566.6 362.6,578.4 371.9,587.7 374.4,590.8 387.5,603.2 389.7,605 401.4,615.6 407.6,620.7 415.7,628 425.5,636.2 430.3,640.3 443.3,651.3 445.2,652.7 461.2,665.1 461.2,665.1 479.1,676.7 480.7,677.5 496.9,684.9 514.8,689.5 521.8,689.9 532.7,690.3 535.5,689.9 550.5,686.9 568.4,677.6 568.6,677.5 576.8,665.1 578.6,652.7 575.5,640.3 568.8,628 568.4,627.4 557.3,615.6 550.5,609.7 542,603.2 532.7,597.3 521,590.8 514.8,587.9 496.9,580.7 490.6,578.4 479.1,575.1 461.2,570.4 444.1,566 443.3,565.9 425.5,562.9 407.6,560.1 389.7,557.4 371.9,555.4Z"/>
<path fill="#4b61da" d="M353.4,566 354,563.5 371.9,555.4 389.7,557.4 407.6,560.1 425.5,562.9 443.3,565.9 444.1,566 461.2,570.4 479.1,575.1 490.6,578.4 496.9,580.7 514.8,587.9 521,590.8 532.7,597.3 542,603.2 550.5,609.7 557.3,615.6 568.4,627.4 568.8,628 575.5,640.3 578.6,652.7 576.8,665.1 568.6,677.5 568.4,677.6 550.5,686.9 535.5,689.9 532.7,690.3 521.8,689.9 514.8,689.5 496.9,684.9 480.7,677.5 479.1,676.7 461.2,665.1 461.2,665.1 445.2,652.7 443.3,651.3 430.3,640.3 425.5,636.2 415.7,628 407.6,620.7 401.4,615.6 389.7,605 387.5,603.2 374.4,590.8 371.9,587.7 362.6,578.4 354,566.6ZM461.2,596.1 448.7,603.2 453.9,615.6 461.2,623.5 465.6,628 479.1,638.4 482.3,640.3 496.9,647.8 514.6,652.7 514.8,652.8 515.2,652.7 532.7,647.2 536.4,640.3 533.8,628 532.7,626.6 521.5,615.6 514.8,611 500.7,603.2 496.9,601.7 479.1,597.2Z"/>
<path fill="#3a56dc" d="M448.7,603.2 461.2,596.1 479.1,597.2 496.9,601.7 500.7,603.2 514.8,611 521.5,615.6 532.7,626.6 533.8,628 536.4,640.3 532.7,647.2 515.2,652.7 514.8,652.8 514.6,652.7 496.9,647.8 482.3,640.3 479.1,638.4 465.6,628 461.2,623.5 453.9,615.6Z"/>
</g>
<g class="seam">
<rect x="175" y="157" width="1" height="608" fill-opacity="0.213"/>
<rect x="193" y="157" width="1" height="608" fill-opacity="0.145"/>
<rect x="211" y="157" width="1" height="608" fill-opacity="0.041"/>
<rect x="228" y="157" width="1" height="608" fill-opacity="0.081"/>
<rect x="246" y="157" width="1" height="608" fill-opacity="0.172"/>
<rect x="264" y="157" width="1" height="608" fill-opacity="0.229"/>
<rect x="282" y="157" width="1" height="608" fill-opacity="0.250"/>
<rect x="300" y="157" width="1" height="608" fill-opacity="0.236"/>
<rect x="318" y="157" width="1" height="608" fill-opacity="0.187"/>
<rect x="336" y="157" width="1" height="608" fill-opacity="0.104"/>
<rect x="353" y="157" width="1" height="608" fill-opacity="0.014"/>
<rect x="371" y="157" width="1" height="608" fill-opacity="0.125"/>
<rect x="389" y="157" width="1" height="608" fill-opacity="0.201"/>
<rect x="407" y="157" width="1" height="608" fill-opacity="0.242"/>
<rect x="425" y="157" width="1" height="608" fill-opacity="0.248"/>
<rect x="443" y="157" width="1" height="608" fill-opacity="0.219"/>
<rect x="461" y="157" width="1" height="608" fill-opacity="0.155"/>
<rect x="479" y="157" width="1" height="608" fill-opacity="0.056"/>
<rect x="496" y="157" width="1" height="608" fill-opacity="0.067"/>
<rect x="514" y="157" width="1" height="608" fill-opacity="0.163"/>
<rect x="532" y="157" width="1" height="608" fill-opacity="0.223"/>
<rect x="550" y="157" width="1" height="608" fill-opacity="0.249"/>
<rect x="568" y="157" width="1" height="608" fill-opacity="0.240"/>
<rect x="586" y="157" width="1" height="608" fill-opacity="0.195"/>
<rect x="604" y="157" width="1" height="608" fill-opacity="0.116"/>
<rect x="639" y="157" width="1" height="608" fill-opacity="0.114"/>
<rect x="657" y="157" width="1" height="608" fill-opacity="0.194"/>
<rect x="675" y="157" width="1" height="608" fill-opacity="0.239"/>
<rect x="693" y="157" width="1" height="608" fill-opacity="0.249"/>
<rect x="711" y="157" width="1" height="608" fill-opacity="0.225"/>
<rect x="729" y="157" width="1" height="608" fill-opacity="0.165"/>
<rect x="747" y="157" width="1" height="608" fill-opacity="0.070"/>
<rect x="764" y="157" width="1" height="608" fill-opacity="0.053"/>
<rect x="782" y="157" width="1" height="608" fill-opacity="0.153"/>
<rect x="800" y="157" width="1" height="608" fill-opacity="0.218"/>
<rect x="818" y="157" width="1" height="608" fill-opacity="0.248"/>
<rect x="836" y="157" width="1" height="608" fill-opacity="0.243"/>
<rect x="854" y="157" width="1" height="608" fill-opacity="0.203"/>
<rect x="872" y="157" width="1" height="608" fill-opacity="0.128"/>
<rect x="890" y="157" width="1" height="608" fill-opacity="0.018"/>
<rect x="907" y="157" width="1" height="608" fill-opacity="0.101"/>
<rect x="925" y="157" width="1" height="608" fill-opacity="0.186"/>
<rect x="943" y="157" width="1" height="608" fill-opacity="0.235"/>
<rect x="961" y="157" width="1" height="608" fill-opacity="0.250"/>
<rect x="979" y="157" width="1" height="608" fill-opacity="0.229"/>
<rect x="997" y="157" width="1" height="608" fill-opacity="0.174"/>
<rect x="1015" y="157" width="1" height="608" fill-opacity="0.084"/>
<g mask="url(#hm)">
<rect x="157" y="169" width="877" height="1" fill-opacity="0.146"/>
<rect x="157" y="182" width="877" height="1" fill-opacity="0.162"/>
<rect x="157" y="194" width="877" height="1" fill-opacity="0.243"/>
<rect x="157" y="206" width="877" height="1" fill-opacity="0.031"/>
<rect x="157" y="219" width="877" height="1" fill-opacity="0.228"/>
<rect x="157" y="231" width="877" height="1" fill-opacity="0.196"/>
<rect x="157" y="244" width="877" height="1" fill-opacity="0.101"/>
<rect x="157" y="256" width="877" height="1" fill-opacity="0.250"/>
<rect x="157" y="268" width="877" height="1" fill-opacity="0.107"/>
<rect x="157" y="281" width="877" height="1" fill-opacity="0.193"/>
<rect x="157" y="293" width="877" height="1" fill-opacity="0.230"/>
<rect x="157" y="306" width="877" height="1" fill-opacity="0.024"/>
<rect x="157" y="318" width="877" height="1" fill-opacity="0.241"/>
<rect x="157" y="330" width="877" height="1" fill-opacity="0.167"/>
<rect x="157" y="343" width="877" height="1" fill-opacity="0.142"/>
<rect x="157" y="355" width="877" height="1" fill-opacity="0.247"/>
<rect x="157" y="367" width="877" height="1" fill-opacity="0.061"/>
<rect x="157" y="380" width="877" height="1" fill-opacity="0.216"/>
<rect x="157" y="392" width="877" height="1" fill-opacity="0.210"/>
<rect x="157" y="405" width="877" height="1" fill-opacity="0.074"/>
<rect x="157" y="417" width="877" height="1" fill-opacity="0.249"/>
<rect x="157" y="429" width="877" height="1" fill-opacity="0.131"/>
<rect x="157" y="442" width="877" height="1" fill-opacity="0.175"/>
<rect x="157" y="454" width="877" height="1" fill-opacity="0.238"/>
<rect x="157" y="466" width="877" height="1" fill-opacity="0.009"/>
<rect x="157" y="479" width="877" height="1" fill-opacity="0.234"/>
<rect x="157" y="491" width="877" height="1" fill-opacity="0.185"/>
<rect x="157" y="504" width="877" height="1" fill-opacity="0.118"/>
<rect x="157" y="516" width="877" height="1" fill-opacity="0.250"/>
<rect x="157" y="528" width="877" height="1" fill-opacity="0.089"/>
<rect x="157" y="541" width="877" height="1" fill-opacity="0.203"/>
<rect x="157" y="553" width="877" height="1" fill-opacity="0.223"/>
<rect x="157" y="566" width="877" height="1" fill-opacity="0.045"/>
<rect x="157" y="578" width="877" height="1" fill-opacity="0.245"/>
<rect x="157" y="590" width="877" height="1" fill-opacity="0.153"/>
<rect x="157" y="603" width="877" height="1" fill-opacity="0.156"/>
<rect x="157" y="615" width="877" height="1" fill-opacity="0.244"/>
<rect x="157" y="627" width="877" height="1" fill-opacity="0.041"/>
<rect x="157" y="640" width="877" height="1" fill-opacity="0.224"/>
<rect x="157" y="652" width="877" height="1" fill-opacity="0.201"/>
<rect x="157" y="665" width="877" height="1" fill-opacity="0.093"/>
<rect x="157" y="677" width="877" height="1" fill-opacity="0.250"/>
<rect x="157" y="689" width="877" height="1" fill-opacity="0.115"/>
<rect x="157" y="702" width="877" height="1" fill-opacity="0.187"/>
<rect x="157" y="714" width="877" height="1" fill-opacity="0.233"/>
<rect x="157" y="727" width="877" height="1" fill-opacity="0.014"/>
<rect x="157" y="739" width="877" height="1" fill-opacity="0.239"/>
<rect x="157" y="751" width="877" height="1" fill-opacity="0.173"/>
</g>
</g>
<g id="pts">
<circle cx="213.00" cy="485.50" r="7.2" class="o"/>
<circle cx="288.75" cy="480.50" r="7.2" class="o"/>
<circle cx="350.75" cy="509.00" r="7.2" class="o"/>
<circle cx="308.25" cy="522.25" r="7.2" class="o"/>
<circle cx="337.00" cy="536.75" r="7.2" class="o"/>
<circle cx="286.25" cy="543.75" r="7.2" class="o"/>
<circle cx="401.25" cy="558.90" r="7.2" class="o"/>
<circle cx="293.50" cy="562.00" r="7.2" class="o"/>
<circle cx="180.50" cy="564.00" r="7.2" class="o"/>
<circle cx="422.75" cy="576.00" r="7.2" class="o"/>
<circle cx="272.00" cy="583.25" r="7.2" class="o"/>
<circle cx="417.00" cy="584.25" r="7.2" class="o"/>
<circle cx="287.00" cy="593.25" r="7.2" class="o"/>
<circle cx="336.50" cy="594.25" r="7.2" class="o"/>
<circle cx="341.50" cy="597.50" r="7.2" class="o"/>
<circle cx="394.75" cy="597.00" r="7.2" class="o"/>
<circle cx="385.50" cy="610.50" r="7.2" class="o"/>
<circle cx="395.80" cy="616.70" r="7.2" class="o"/>
<circle cx="453.50" cy="612.50" r="7.2" class="o"/>
<circle cx="474.50" cy="613.50" r="7.2" class="o"/>
<circle cx="357.25" cy="624.75" r="7.2" class="o"/>
<circle cx="454.25" cy="625.00" r="7.2" class="o"/>
<circle cx="385.75" cy="636.75" r="7.2" class="o"/>
<circle cx="434.75" cy="635.40" r="7.2" class="o"/>
<circle cx="432.90" cy="638.90" r="7.2" class="o"/>
<circle cx="405.25" cy="642.25" r="7.2" class="o"/>
<circle cx="419.25" cy="641.75" r="7.2" class="o"/>
<circle cx="451.50" cy="645.00" r="7.2" class="o"/>
<circle cx="282.50" cy="638.75" r="7.2" class="o"/>
<circle cx="264.75" cy="646.50" r="7.2" class="o"/>
<circle cx="310.75" cy="662.00" r="7.2" class="o"/>
<circle cx="336.00" cy="674.75" r="7.2" class="o"/>
<circle cx="414.75" cy="671.75" r="7.2" class="o"/>
<circle cx="364.50" cy="688.50" r="7.2" class="o"/>
<circle cx="285.50" cy="704.00" r="7.2" class="o"/>
<circle cx="288.25" cy="719.50" r="7.2" class="o"/>
<circle cx="443.50" cy="706.75" r="7.2" class="o"/>
<circle cx="535.25" cy="569.50" r="7.2" class="o"/>
<circle cx="504.50" cy="589.75" r="7.2" class="o"/>
<circle cx="547.25" cy="618.25" r="7.2" class="o"/>
<circle cx="494.75" cy="648.00" r="7.2" class="o"/>
<circle cx="513.50" cy="653.25" r="7.2" class="o"/>
<circle cx="592.50" cy="667.00" r="7.2" class="o"/>
<circle cx="631.00" cy="717.25" r="7.2" class="o"/>
<circle cx="494.00" cy="722.50" r="7.2" class="o"/>
<polygon points="571.00,375.30 580.70,392.10 561.30,392.10" class="o"/>
<polygon points="572.50,445.05 582.20,461.85 562.80,461.85" class="o"/>
<polygon points="600.50,430.30 610.20,447.10 590.80,447.10" class="o"/>
<polygon points="599.50,437.05 609.20,453.85 589.80,453.85" class="o"/>
<polygon points="603.30,435.10 613.00,451.90 593.60,451.90" class="o"/>
<polygon points="652.75,433.80 662.45,450.60 643.05,450.60" class="o"/>
<polygon points="648.75,442.80 658.45,459.60 639.05,459.60" class="o"/>
<polygon points="689.60,415.55 699.30,432.35 679.90,432.35" class="o"/>
<polygon points="692.00,440.70 701.70,457.50 682.30,457.50" class="o"/>
<polygon points="707.60,457.05 717.30,473.85 697.90,473.85" class="o"/>
<polygon points="677.75,475.80 687.45,492.60 668.05,492.60" class="o"/>
<polygon points="721.50,495.55 731.20,512.35 711.80,512.35" class="o"/>
<polygon points="718.75,433.00 728.45,449.80 709.05,449.80" class="o"/>
<polygon points="736.40,425.40 746.10,442.20 726.70,442.20" class="o"/>
<polygon points="727.60,407.05 737.30,423.85 717.90,423.85" class="o"/>
<polygon points="752.50,415.40 762.20,432.20 742.80,432.20" class="o"/>
<polygon points="772.50,432.55 782.20,449.35 762.80,449.35" class="o"/>
<polygon points="718.75,378.05 728.45,394.85 709.05,394.85" class="o"/>
<polygon points="730.90,387.05 740.60,403.85 721.20,403.85" class="o"/>
<polygon points="751.80,386.70 761.50,403.50 742.10,403.50" class="o"/>
<polygon points="753.50,394.40 763.20,411.20 743.80,411.20" class="o"/>
<polygon points="767.40,392.55 777.10,409.35 757.70,409.35" class="o"/>
<polygon points="767.00,401.90 776.70,418.70 757.30,418.70" class="o"/>
<polygon points="796.50,402.40 806.20,419.20 786.80,419.20" class="o"/>
<polygon points="790.50,407.70 800.20,424.50 780.80,424.50" class="o"/>
<polygon points="829.00,430.05 838.70,446.85 819.30,446.85" class="o"/>
<polygon points="785.50,453.50 795.20,470.30 775.80,470.30" class="o"/>
<polygon points="787.00,470.20 796.70,487.00 777.30,487.00" class="o"/>
<polygon points="786.40,480.50 796.10,497.30 776.70,497.30" class="o"/>
<polygon points="879.25,450.05 888.95,466.85 869.55,466.85" class="o"/>
<polygon points="857.25,462.55 866.95,479.35 847.55,479.35" class="o"/>
<polygon points="872.50,489.55 882.20,506.35 862.80,506.35" class="o"/>
<polygon points="921.25,488.55 930.95,505.35 911.55,505.35" class="o"/>
<polygon points="693.75,262.30 703.45,279.10 684.05,279.10" class="o"/>
<polygon points="712.75,279.30 722.45,296.10 703.05,296.10" class="o"/>
<polygon points="741.75,281.30 751.45,298.10 732.05,298.10" class="o"/>
<polygon points="560.00,353.30 569.70,370.10 550.30,370.10" class="o"/>
<polygon points="590.00,348.55 599.70,365.35 580.30,365.35" class="o"/>
<polygon points="616.50,361.55 626.20,378.35 606.80,378.35" class="o"/>
<polygon points="667.25,351.30 676.95,368.10 657.55,368.10" class="o"/>
<polygon points="693.75,345.55 703.45,362.35 684.05,362.35" class="o"/>
<polygon points="824.25,277.55 833.95,294.35 814.55,294.35" class="o"/>
<polygon points="823.25,290.05 832.95,306.85 813.55,306.85" class="o"/>
<polygon points="824.50,319.55 834.20,336.35 814.80,336.35" class="o"/>
<polygon points="863.50,342.55 873.20,359.35 853.80,359.35" class="o"/>
<circle cx="402.50" cy="388.75" r="7.2" class="f"/>
<circle cx="285.00" cy="420.50" r="7.2" class="f"/>
<circle cx="460.50" cy="468.00" r="7.2" class="f"/>
<circle cx="157.44" cy="494.00" r="7.2" class="f"/>
<circle cx="403.50" cy="521.75" r="7.2" class="f"/>
<circle cx="471.75" cy="536.25" r="7.2" class="f"/>
<circle cx="182.00" cy="575.75" r="7.2" class="f"/>
<circle cx="577.00" cy="499.25" r="7.2" class="f"/>
<circle cx="656.75" cy="466.00" r="7.2" class="f"/>
<circle cx="515.00" cy="560.00" r="7.2" class="f"/>
<circle cx="609.75" cy="573.75" r="7.2" class="f"/>
<circle cx="728.75" cy="526.50" r="7.2" class="f"/>
<circle cx="666.50" cy="669.75" r="7.2" class="f"/>
<circle cx="177.50" cy="740.25" r="7.2" class="f"/>
<circle cx="482.50" cy="764.16" r="7.2" class="f"/>
<polygon points="489.00,395.05 498.70,411.85 479.30,411.85" class="f"/>
<polygon points="511.25,430.30 520.95,447.10 501.55,447.10" class="f"/>
<polygon points="490.00,447.80 499.70,464.60 480.30,464.60" class="f"/>
<polygon points="547.25,479.05 556.95,495.85 537.55,495.85" class="f"/>
<polygon points="581.75,470.55 591.45,487.35 572.05,487.35" class="f"/>
<polygon points="711.75,515.05 721.45,531.85 702.05,531.85" class="f"/>
<polygon points="735.50,519.55 745.20,536.35 725.80,536.35" class="f"/>
<polygon points="766.40,523.80 776.10,540.60 756.70,540.60" class="f"/>
<polygon points="916.50,517.30 926.20,534.10 906.80,534.10" class="f"/>
<polygon points="1032.96,417.70 1042.66,434.50 1023.26,434.50" class="f"/>
<polygon points="758.00,146.24 767.70,163.04 748.30,163.04" class="f"/>
<polygon points="669.25,208.30 678.95,225.10 659.55,225.10" class="f"/>
<polygon points="648.75,302.80 658.45,319.60 639.05,319.60" class="f"/>
<polygon points="749.00,338.80 758.70,355.60 739.30,355.60" class="f"/>
<polygon points="891.00,306.80 900.70,323.60 881.30,323.60" class="f"/>
</g>
</g>
<g class="ln">
<line x1="183.90" y1="764.16" x2="183.90" y2="783.36"/>
<line x1="394.18" y1="764.16" x2="394.18" y2="783.36"/>
<line x1="604.46" y1="764.16" x2="604.46" y2="783.36"/>
<line x1="814.74" y1="764.16" x2="814.74" y2="783.36"/>
<line x1="1025.02" y1="764.16" x2="1025.02" y2="783.36"/>
<line x1="157.44" y1="187.48" x2="138.24" y2="187.48"/>
<line x1="157.44" y1="327.33" x2="138.24" y2="327.33"/>
<line x1="157.44" y1="467.18" x2="138.24" y2="467.18"/>
<line x1="157.44" y1="607.02" x2="138.24" y2="607.02"/>
<line x1="157.44" y1="746.87" x2="138.24" y2="746.87"/>
<line x1="183.90" y1="764.16" x2="1025.02" y2="764.16"/>
<line x1="157.44" y1="187.48" x2="157.44" y2="746.87"/>
<line x1="1186.56" y1="157.44" x2="1205.76" y2="157.44"/>
<line x1="1186.56" y1="262.05" x2="1205.76" y2="262.05"/>
<line x1="1186.56" y1="366.65" x2="1205.76" y2="366.65"/>
<line x1="1186.56" y1="471.26" x2="1205.76" y2="471.26"/>
<line x1="1186.56" y1="575.87" x2="1205.76" y2="575.87"/>
<line x1="1186.56" y1="680.47" x2="1205.76" y2="680.47"/>
<rect x="157.44" y="157.44" width="875.52" height="606.72" fill="none"/>
<g id="key">
<rect x="1109.76" y="743.24" width="76.80" height="20.92" fill="#cb3a62"/>
<rect x="1109.76" y="722.32" width="76.80" height="20.92" fill="#d04a6c"/>
<rect x="1109.76" y="701.40" width="76.80" height="20.92" fill="#d45876"/>
<rect x="1109.76" y="680.47" width="76.80" height="20.92" fill="#d66781"/>
<rect x="1109.76" y="659.55" width="76.80" height="20.92" fill="#d9758c"/>
<rect x="1109.76" y="638.63" width="76.80" height="20.92" fill="#dc8396"/>
<rect x="1109.76" y="617.71" width="76.80" height="20.92" fill="#dd91a1"/>
<rect x="1109.76" y="596.79" width="76.80" height="20.92" fill="#de9dab"/>
<rect x="1109.76" y="575.87" width="76.80" height="20.92" fill="#dfaab5"/>
<rect x="1109.76" y="554.95" width="76.80" height="20.92" fill="#dfb6be"/>
<rect x="1109.76" y="534.02" width="76.80" height="20.92" fill="#dec2c7"/>
<rect x="1109.76" y="513.10" width="76.80" height="20.92" fill="#ddcccf"/>
<rect x="1109.76" y="492.18" width="76.80" height="20.92" fill="#dcd5d6"/>
<rect x="1109.76" y="471.26" width="76.80" height="20.92" fill="#dbdbdb"/>
<rect x="1109.76" y="450.34" width="76.80" height="20.92" fill="#dbdbdb"/>
<rect x="1109.76" y="429.42" width="76.80" height="20.92" fill="#d6d7db"/>
<rect x="1109.76" y="408.50" width="76.80" height="20.92" fill="#ced0dc"/>
<rect x="1109.76" y="387.58" width="76.80" height="20.92" fill="#c5c7dc"/>
<rect x="1109.76" y="366.65" width="76.80" height="20.92" fill="#bbbfdc"/>
<rect x="1109.76" y="345.73" width="76.80" height="20.92" fill="#b0b6dc"/>
<rect x="1109.76" y="324.81" width="76.80" height="20.92" fill="#a6abdc"/>
<rect x="1109.76" y="303.89" width="76.80" height="20.92" fill="#9aa2db"/>
<rect x="1109.76" y="282.97" width="76.80" height="20.92" fill="#8f97db"/>
<rect x="1109.76" y="262.05" width="76.80" height="20.92" fill="#828ddb"/>
<rect x="1109.76" y="241.13" width="76.80" height="20.92" fill="#7583da"/>
<rect x="1109.76" y="220.20" width="76.80" height="20.92" fill="#6877da"/>
<rect x="1109.76" y="199.28" width="76.80" height="20.92" fill="#5a6cda"/>
<rect x="1109.76" y="178.36" width="76.80" height="20.92" fill="#4b61da"/>
<rect x="1109.76" y="157.44" width="76.80" height="20.92" fill="#3a56dc"/>
<rect x="1109.76" y="157.44" width="76.80" height="606.72" fill="none"/>
</g>
</g>
<g id="labels">
<text transform="scale(1.02,1.04)" x="165.80 175.98" y="802.50 801.92">-2</text>
<text transform="scale(1.02,1.04)" x="377.21" y="801.92">0</text>
<text transform="scale(1.02,1.04)" x="583.07" y="801.92">2</text>
<text transform="scale(1.02,1.04)" x="789.09" y="801.92">4</text>
<text transform="scale(1.02,1.04)" x="995.47" y="801.92">6</text>
<text transform="scale(1.02,1.04)" x="98.54" y="191.35">6</text>
<text transform="scale(1.02,1.04)" x="98.31" y="325.96">4</text>
<text transform="scale(1.02,1.04)" x="98.45" y="460.58">2</text>
<text transform="scale(1.02,1.04)" x="98.74" y="595.19">0</text>
<text transform="scale(1.02,1.04)" x="88.27 98.45" y="730.38 729.81">-2</text>
<text transform="scale(1.02,1.04)" x="1201.31 1218.10 1226.96" y="162.50 162.50 162.50">1.5</text>
<text transform="scale(1.02,1.04)" x="1201.31 1218.10 1226.59" y="263.46 263.46 263.46">1.0</text>
<text transform="scale(1.02,1.04)" x="1200.42 1218.10 1226.96" y="364.42 364.42 364.42">0.5</text>
<text transform="scale(1.02,1.04)" x="1200.42 1218.10 1226.59" y="464.42 464.42 464.42">0.0</text>
<text transform="scale(1.02,1.04)" x="1200.40 1210.87 1228.55 1237.41" y="565.96 565.38 565.38 565.38">-0.5</text>
<text transform="scale(1.02,1.04)" x="1200.40 1211.76 1228.55 1237.03" y="665.96 665.38 665.38 665.38">-1.0</text>
<g fill="#fff"><rect x="1226.97" y="165.81" width="6.58" height="4.19"/><rect x="1236.43" y="165.81" width="6.21" height="4.19"/><rect x="1226.97" y="270.81" width="6.58" height="4.19"/><rect x="1236.43" y="270.81" width="6.21" height="4.19"/><rect x="1237.63" y="688.81" width="6.58" height="4.19"/><rect x="1247.09" y="688.81" width="6.21" height="4.19"/></g>
<text class="title" transform="scale(0.9975,1.02)" x="596.3" y="91.18" text-anchor="middle">SVM classification plot</text>
</g>
</svg>
</body></html>
